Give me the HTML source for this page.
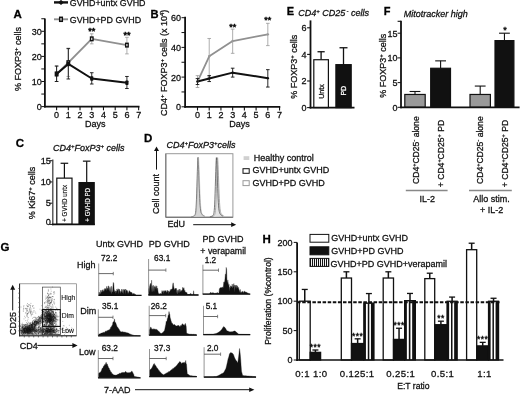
<!DOCTYPE html>
<html><head><meta charset="utf-8"><title>Figure</title>
<style>
html,body{margin:0;padding:0;background:#fff;}
body{width:520px;height:395px;overflow:hidden;}
svg{display:block;font-family:"Liberation Sans",sans-serif;filter:blur(0.3px);}
</style></head><body>
<svg width="520" height="395" viewBox="0 0 520 395">
<rect width="520" height="395" fill="#fff"/>
<line x1="54.00" y1="2.40" x2="68.00" y2="2.40" stroke="#111" stroke-width="2.4" />
<path d="M61 -0.2 L63.8 2.4 L61 5.0 L58.2 2.4 Z" fill="#111"/>
<text x="69.80" y="5.70" font-size="8.9" fill="#111" stroke="#111" stroke-width="0.28">GVHD+untx GVHD</text>
<line x1="54.00" y1="19.30" x2="68.00" y2="19.30" stroke="#909090" stroke-width="1.9" />
<rect x="59.70" y="17.30" width="2.60" height="4.00" fill="#fff" stroke="#111" stroke-width="1.5" />
<text x="69.80" y="22.60" font-size="8.9" fill="#111" stroke="#111" stroke-width="0.28">GVHD+PD GVHD</text>
<text x="13.40" y="17.60" font-size="11.5" font-weight="bold" fill="#000" stroke="#000" stroke-width="0.28">A</text>
<line x1="44.90" y1="18.50" x2="44.90" y2="107.50" stroke="#111" stroke-width="1.8" />
<line x1="44.10" y1="106.60" x2="139.50" y2="106.60" stroke="#111" stroke-width="1.8" />
<line x1="41.30" y1="106.60" x2="44.90" y2="106.60" stroke="#111" stroke-width="1.0" />
<line x1="41.30" y1="94.05" x2="44.90" y2="94.05" stroke="#111" stroke-width="1.0" />
<line x1="41.30" y1="81.50" x2="44.90" y2="81.50" stroke="#111" stroke-width="1.0" />
<line x1="41.30" y1="68.95" x2="44.90" y2="68.95" stroke="#111" stroke-width="1.0" />
<line x1="41.30" y1="56.40" x2="44.90" y2="56.40" stroke="#111" stroke-width="1.0" />
<line x1="41.30" y1="43.85" x2="44.90" y2="43.85" stroke="#111" stroke-width="1.0" />
<line x1="41.30" y1="31.30" x2="44.90" y2="31.30" stroke="#111" stroke-width="1.0" />
<line x1="41.30" y1="18.75" x2="44.90" y2="18.75" stroke="#111" stroke-width="1.0" />
<text x="41.70" y="109.80" font-size="9" text-anchor="end" fill="#111" stroke="#111" stroke-width="0.28">0</text>
<text x="41.70" y="84.70" font-size="9" text-anchor="end" fill="#111" stroke="#111" stroke-width="0.28">10</text>
<text x="41.70" y="59.60" font-size="9" text-anchor="end" fill="#111" stroke="#111" stroke-width="0.28">20</text>
<text x="41.70" y="34.50" font-size="9" text-anchor="end" fill="#111" stroke="#111" stroke-width="0.28">30</text>
<line x1="56.60" y1="106.60" x2="56.60" y2="110.30" stroke="#111" stroke-width="1.1" />
<text x="56.60" y="118.20" font-size="9" text-anchor="middle" fill="#111" stroke="#111" stroke-width="0.28">0</text>
<line x1="68.32" y1="106.60" x2="68.32" y2="110.30" stroke="#111" stroke-width="1.1" />
<text x="68.32" y="118.20" font-size="9" text-anchor="middle" fill="#111" stroke="#111" stroke-width="0.28">1</text>
<line x1="80.04" y1="106.60" x2="80.04" y2="110.30" stroke="#111" stroke-width="1.1" />
<text x="80.04" y="118.20" font-size="9" text-anchor="middle" fill="#111" stroke="#111" stroke-width="0.28">2</text>
<line x1="91.76" y1="106.60" x2="91.76" y2="110.30" stroke="#111" stroke-width="1.1" />
<text x="91.76" y="118.20" font-size="9" text-anchor="middle" fill="#111" stroke="#111" stroke-width="0.28">3</text>
<line x1="103.48" y1="106.60" x2="103.48" y2="110.30" stroke="#111" stroke-width="1.1" />
<text x="103.48" y="118.20" font-size="9" text-anchor="middle" fill="#111" stroke="#111" stroke-width="0.28">4</text>
<line x1="115.20" y1="106.60" x2="115.20" y2="110.30" stroke="#111" stroke-width="1.1" />
<text x="115.20" y="118.20" font-size="9" text-anchor="middle" fill="#111" stroke="#111" stroke-width="0.28">5</text>
<line x1="126.92" y1="106.60" x2="126.92" y2="110.30" stroke="#111" stroke-width="1.1" />
<text x="126.92" y="118.20" font-size="9" text-anchor="middle" fill="#111" stroke="#111" stroke-width="0.28">6</text>
<line x1="138.64" y1="106.60" x2="138.64" y2="110.30" stroke="#111" stroke-width="1.1" />
<text x="138.64" y="118.20" font-size="9" text-anchor="middle" fill="#111" stroke="#111" stroke-width="0.28">7</text>
<text x="95.20" y="126.80" font-size="9" text-anchor="middle" fill="#111" stroke="#111" stroke-width="0.28">Days</text>
<text x="21.20" y="59.00" font-size="9" text-anchor="middle" fill="#111" stroke="#111" stroke-width="0.28" transform="rotate(-90 21.20 59.00)">% FOXP3<tspan dy="-3" font-size="6">+</tspan><tspan dy="3" font-size="1">&#8203;</tspan> cells</text>
<line x1="56.60" y1="66.44" x2="56.60" y2="81.50" stroke="#999" stroke-width="0.8" />
<line x1="54.80" y1="66.44" x2="58.40" y2="66.44" stroke="#999" stroke-width="0.8" />
<line x1="54.80" y1="81.50" x2="58.40" y2="81.50" stroke="#999" stroke-width="0.8" />
<line x1="68.32" y1="48.87" x2="68.32" y2="76.48" stroke="#999" stroke-width="0.8" />
<line x1="66.52" y1="48.87" x2="70.12" y2="48.87" stroke="#999" stroke-width="0.8" />
<line x1="66.52" y1="76.48" x2="70.12" y2="76.48" stroke="#999" stroke-width="0.8" />
<line x1="91.76" y1="33.81" x2="91.76" y2="43.85" stroke="#999" stroke-width="0.8" />
<line x1="89.96" y1="33.81" x2="93.56" y2="33.81" stroke="#999" stroke-width="0.8" />
<line x1="89.96" y1="43.85" x2="93.56" y2="43.85" stroke="#999" stroke-width="0.8" />
<line x1="126.92" y1="37.32" x2="126.92" y2="53.89" stroke="#999" stroke-width="0.8" />
<line x1="125.12" y1="37.32" x2="128.72" y2="37.32" stroke="#999" stroke-width="0.8" />
<line x1="125.12" y1="53.89" x2="128.72" y2="53.89" stroke="#999" stroke-width="0.8" />
<path d="M56.60 73.97 L68.32 62.67 L91.76 38.83 L126.92 45.10" fill="none" stroke="#909090" stroke-width="1.9" stroke-linejoin="round" />
<line x1="56.60" y1="65.94" x2="56.60" y2="81.50" stroke="#111" stroke-width="0.9" />
<line x1="54.80" y1="65.94" x2="58.40" y2="65.94" stroke="#111" stroke-width="0.9" />
<line x1="54.80" y1="81.50" x2="58.40" y2="81.50" stroke="#111" stroke-width="0.9" />
<line x1="68.32" y1="48.37" x2="68.32" y2="78.99" stroke="#111" stroke-width="0.9" />
<line x1="66.52" y1="48.37" x2="70.12" y2="48.37" stroke="#111" stroke-width="0.9" />
<line x1="66.52" y1="78.99" x2="70.12" y2="78.99" stroke="#111" stroke-width="0.9" />
<line x1="91.76" y1="72.72" x2="91.76" y2="84.01" stroke="#111" stroke-width="0.9" />
<line x1="89.96" y1="72.72" x2="93.56" y2="72.72" stroke="#111" stroke-width="0.9" />
<line x1="89.96" y1="84.01" x2="93.56" y2="84.01" stroke="#111" stroke-width="0.9" />
<line x1="126.92" y1="76.48" x2="126.92" y2="88.53" stroke="#111" stroke-width="0.9" />
<line x1="125.12" y1="76.48" x2="128.72" y2="76.48" stroke="#111" stroke-width="0.9" />
<line x1="125.12" y1="88.53" x2="128.72" y2="88.53" stroke="#111" stroke-width="0.9" />
<path d="M56.60 73.97 L68.32 63.93 L91.76 78.49 L126.92 82.75" fill="none" stroke="#111" stroke-width="2.0" stroke-linejoin="round" />
<rect x="55.35" y="72.17" width="2.50" height="3.60" fill="#fff" stroke="#111" stroke-width="1.4" />
<rect x="67.07" y="60.88" width="2.50" height="3.60" fill="#fff" stroke="#111" stroke-width="1.4" />
<rect x="90.51" y="37.03" width="2.50" height="3.60" fill="#fff" stroke="#111" stroke-width="1.4" />
<rect x="125.67" y="43.30" width="2.50" height="3.60" fill="#fff" stroke="#111" stroke-width="1.4" />
<rect x="55.00" y="71.67" width="3.20" height="4.60" fill="#111" stroke="none" stroke-width="0" rx="0.8"/>
<rect x="66.72" y="61.63" width="3.20" height="4.60" fill="#111" stroke="none" stroke-width="0" rx="0.8"/>
<rect x="90.16" y="76.19" width="3.20" height="4.60" fill="#111" stroke="none" stroke-width="0" rx="0.8"/>
<rect x="125.32" y="80.45" width="3.20" height="4.60" fill="#111" stroke="none" stroke-width="0" rx="0.8"/>
<text x="91.76" y="34.01" font-size="9" text-anchor="middle" fill="#111" stroke="#111" stroke-width="0.55">**</text>
<text x="126.92" y="37.52" font-size="9" text-anchor="middle" fill="#111" stroke="#111" stroke-width="0.55">**</text>
<text x="150.50" y="18.40" font-size="11.2" font-weight="bold" fill="#000" stroke="#000" stroke-width="0.28">B</text>
<line x1="185.10" y1="16.80" x2="185.10" y2="107.70" stroke="#111" stroke-width="1.8" />
<line x1="184.30" y1="106.80" x2="280.30" y2="106.80" stroke="#111" stroke-width="1.8" />
<line x1="181.50" y1="106.80" x2="185.10" y2="106.80" stroke="#111" stroke-width="1.0" />
<line x1="181.50" y1="91.95" x2="185.10" y2="91.95" stroke="#111" stroke-width="1.0" />
<line x1="181.50" y1="77.10" x2="185.10" y2="77.10" stroke="#111" stroke-width="1.0" />
<line x1="181.50" y1="62.25" x2="185.10" y2="62.25" stroke="#111" stroke-width="1.0" />
<line x1="181.50" y1="47.40" x2="185.10" y2="47.40" stroke="#111" stroke-width="1.0" />
<line x1="181.50" y1="32.55" x2="185.10" y2="32.55" stroke="#111" stroke-width="1.0" />
<line x1="181.50" y1="17.70" x2="185.10" y2="17.70" stroke="#111" stroke-width="1.0" />
<text x="181.00" y="110.20" font-size="9" text-anchor="end" fill="#111" stroke="#111" stroke-width="0.28">0</text>
<text x="181.00" y="80.50" font-size="9" text-anchor="end" fill="#111" stroke="#111" stroke-width="0.28">20</text>
<text x="181.00" y="50.80" font-size="9" text-anchor="end" fill="#111" stroke="#111" stroke-width="0.28">40</text>
<text x="181.00" y="21.10" font-size="9" text-anchor="end" fill="#111" stroke="#111" stroke-width="0.28">60</text>
<line x1="197.50" y1="106.80" x2="197.50" y2="110.50" stroke="#111" stroke-width="1.1" />
<text x="197.50" y="118.20" font-size="9" text-anchor="middle" fill="#111" stroke="#111" stroke-width="0.28">0</text>
<line x1="209.22" y1="106.80" x2="209.22" y2="110.50" stroke="#111" stroke-width="1.1" />
<text x="209.22" y="118.20" font-size="9" text-anchor="middle" fill="#111" stroke="#111" stroke-width="0.28">1</text>
<line x1="220.94" y1="106.80" x2="220.94" y2="110.50" stroke="#111" stroke-width="1.1" />
<text x="220.94" y="118.20" font-size="9" text-anchor="middle" fill="#111" stroke="#111" stroke-width="0.28">2</text>
<line x1="232.66" y1="106.80" x2="232.66" y2="110.50" stroke="#111" stroke-width="1.1" />
<text x="232.66" y="118.20" font-size="9" text-anchor="middle" fill="#111" stroke="#111" stroke-width="0.28">3</text>
<line x1="244.38" y1="106.80" x2="244.38" y2="110.50" stroke="#111" stroke-width="1.1" />
<text x="244.38" y="118.20" font-size="9" text-anchor="middle" fill="#111" stroke="#111" stroke-width="0.28">4</text>
<line x1="256.10" y1="106.80" x2="256.10" y2="110.50" stroke="#111" stroke-width="1.1" />
<text x="256.10" y="118.20" font-size="9" text-anchor="middle" fill="#111" stroke="#111" stroke-width="0.28">5</text>
<line x1="267.82" y1="106.80" x2="267.82" y2="110.50" stroke="#111" stroke-width="1.1" />
<text x="267.82" y="118.20" font-size="9" text-anchor="middle" fill="#111" stroke="#111" stroke-width="0.28">6</text>
<line x1="279.54" y1="106.80" x2="279.54" y2="110.50" stroke="#111" stroke-width="1.1" />
<text x="279.54" y="118.20" font-size="9" text-anchor="middle" fill="#111" stroke="#111" stroke-width="0.28">7</text>
<text x="239.60" y="126.80" font-size="9" text-anchor="middle" fill="#111" stroke="#111" stroke-width="0.28">Days</text>
<text x="167.20" y="62.90" font-size="9" text-anchor="middle" fill="#111" stroke="#111" stroke-width="0.28" transform="rotate(-90 167.20 62.90)">CD4<tspan dy="-3" font-size="6">+</tspan><tspan dy="3" font-size="1">&#8203;</tspan> FOXP3<tspan dy="-3" font-size="6">+</tspan><tspan dy="3" font-size="1">&#8203;</tspan> cells (x 10<tspan dy="-3" font-size="6">4</tspan><tspan dy="3" font-size="1">&#8203;</tspan>)</text>
<line x1="197.50" y1="75.61" x2="197.50" y2="87.50" stroke="#999" stroke-width="0.8" />
<line x1="195.70" y1="75.61" x2="199.30" y2="75.61" stroke="#999" stroke-width="0.8" />
<line x1="195.70" y1="87.50" x2="199.30" y2="87.50" stroke="#999" stroke-width="0.8" />
<line x1="209.22" y1="38.49" x2="209.22" y2="77.10" stroke="#999" stroke-width="0.8" />
<line x1="207.42" y1="38.49" x2="211.02" y2="38.49" stroke="#999" stroke-width="0.8" />
<line x1="207.42" y1="77.10" x2="211.02" y2="77.10" stroke="#999" stroke-width="0.8" />
<line x1="232.66" y1="29.13" x2="232.66" y2="53.34" stroke="#999" stroke-width="0.8" />
<line x1="230.86" y1="29.13" x2="234.46" y2="29.13" stroke="#999" stroke-width="0.8" />
<line x1="230.86" y1="53.34" x2="234.46" y2="53.34" stroke="#999" stroke-width="0.8" />
<line x1="267.82" y1="23.34" x2="267.82" y2="45.62" stroke="#999" stroke-width="0.8" />
<line x1="266.02" y1="23.34" x2="269.62" y2="23.34" stroke="#999" stroke-width="0.8" />
<line x1="266.02" y1="45.62" x2="269.62" y2="45.62" stroke="#999" stroke-width="0.8" />
<path d="M197.50 81.55 L209.22 56.31 L232.66 41.01 L267.82 34.33" fill="none" stroke="#909090" stroke-width="1.8" stroke-linejoin="round" />
<line x1="197.50" y1="78.58" x2="197.50" y2="84.52" stroke="#111" stroke-width="0.9" />
<line x1="195.70" y1="78.58" x2="199.30" y2="78.58" stroke="#111" stroke-width="0.9" />
<line x1="195.70" y1="84.52" x2="199.30" y2="84.52" stroke="#111" stroke-width="0.9" />
<line x1="209.22" y1="75.61" x2="209.22" y2="81.55" stroke="#111" stroke-width="0.9" />
<line x1="207.42" y1="75.61" x2="211.02" y2="75.61" stroke="#111" stroke-width="0.9" />
<line x1="207.42" y1="81.55" x2="211.02" y2="81.55" stroke="#111" stroke-width="0.9" />
<line x1="232.66" y1="68.19" x2="232.66" y2="77.10" stroke="#111" stroke-width="0.9" />
<line x1="230.86" y1="68.19" x2="234.46" y2="68.19" stroke="#111" stroke-width="0.9" />
<line x1="230.86" y1="77.10" x2="234.46" y2="77.10" stroke="#111" stroke-width="0.9" />
<line x1="267.82" y1="69.67" x2="267.82" y2="87.05" stroke="#111" stroke-width="0.9" />
<line x1="266.02" y1="69.67" x2="269.62" y2="69.67" stroke="#111" stroke-width="0.9" />
<line x1="266.02" y1="87.05" x2="269.62" y2="87.05" stroke="#111" stroke-width="0.9" />
<path d="M197.50 81.55 L209.22 78.58 L232.66 72.64 L267.82 78.14" fill="none" stroke="#111" stroke-width="2.0" stroke-linejoin="round" />
<circle cx="197.50" cy="81.55" r="1.2" fill="#999"/>
<circle cx="209.22" cy="56.31" r="1.2" fill="#999"/>
<circle cx="232.66" cy="41.01" r="1.2" fill="#999"/>
<circle cx="267.82" cy="34.33" r="1.2" fill="#999"/>
<circle cx="197.50" cy="81.55" r="1.2" fill="#111"/>
<circle cx="209.22" cy="78.58" r="1.2" fill="#111"/>
<circle cx="232.66" cy="72.64" r="1.2" fill="#111"/>
<circle cx="267.82" cy="78.14" r="1.2" fill="#111"/>
<text x="232.66" y="29.73" font-size="9" text-anchor="middle" fill="#111" stroke="#111" stroke-width="0.5">**</text>
<text x="267.82" y="23.14" font-size="9" text-anchor="middle" fill="#111" stroke="#111" stroke-width="0.5">**</text>
<text x="286.70" y="15.00" font-size="11.0" font-weight="bold" fill="#000" stroke="#000" stroke-width="0.28">E</text>
<text x="298.20" y="16.20" font-size="9" font-style="italic" fill="#111" stroke="#111" stroke-width="0.28">CD4<tspan dy="-3" font-size="6">+</tspan><tspan dy="3" font-size="1">&#8203;</tspan> CD25<tspan dy="-3" font-size="6">&#8201;-</tspan><tspan dy="3" font-size="1">&#8203;</tspan> cells</text>
<text x="297.40" y="66.70" font-size="9" text-anchor="middle" fill="#111" stroke="#111" stroke-width="0.28" transform="rotate(-90 297.40 66.70)">% FOXP3<tspan dy="-3" font-size="6">+</tspan><tspan dy="3" font-size="1">&#8203;</tspan> cells</text>
<line x1="307.10" y1="107.60" x2="310.50" y2="107.60" stroke="#111" stroke-width="1.1" />
<text x="306.60" y="111.00" font-size="9" text-anchor="end" fill="#111" stroke="#111" stroke-width="0.28">0</text>
<line x1="307.10" y1="81.00" x2="310.50" y2="81.00" stroke="#111" stroke-width="1.1" />
<text x="306.60" y="84.40" font-size="9" text-anchor="end" fill="#111" stroke="#111" stroke-width="0.28">2</text>
<line x1="307.10" y1="54.40" x2="310.50" y2="54.40" stroke="#111" stroke-width="1.1" />
<text x="306.60" y="57.80" font-size="9" text-anchor="end" fill="#111" stroke="#111" stroke-width="0.28">4</text>
<line x1="307.10" y1="27.80" x2="310.50" y2="27.80" stroke="#111" stroke-width="1.1" />
<text x="306.60" y="31.20" font-size="9" text-anchor="end" fill="#111" stroke="#111" stroke-width="0.28">6</text>
<line x1="321.10" y1="51.74" x2="321.10" y2="59.72" stroke="#111" stroke-width="1.3" />
<line x1="317.50" y1="51.74" x2="324.70" y2="51.74" stroke="#111" stroke-width="1.3" />
<line x1="343.50" y1="47.75" x2="343.50" y2="65.04" stroke="#111" stroke-width="1.3" />
<line x1="339.50" y1="47.75" x2="347.50" y2="47.75" stroke="#111" stroke-width="1.3" />
<rect x="313.80" y="59.72" width="14.60" height="47.88" fill="#fff" stroke="#111" stroke-width="1.2" />
<rect x="335.90" y="64.64" width="15.30" height="42.96" fill="#111" stroke="#111" stroke-width="1.2" />
<line x1="310.50" y1="20.40" x2="310.50" y2="108.50" stroke="#111" stroke-width="1.8" />
<line x1="309.70" y1="107.60" x2="354.50" y2="107.60" stroke="#111" stroke-width="1.8" />
<text x="323.80" y="91.50" font-size="7" text-anchor="middle" fill="#111" stroke="#111" stroke-width="0.28" transform="rotate(-90 323.80 91.50)">Untx</text>
<text x="346.20" y="90.70" font-size="7" text-anchor="middle" fill="#fff" stroke="#fff" stroke-width="0.28" transform="rotate(-90 346.20 90.70)">PD</text>
<text x="383.70" y="14.90" font-size="11.0" font-weight="bold" fill="#000" stroke="#000" stroke-width="0.28">F</text>
<text x="403.70" y="16.50" font-size="9" font-style="italic" fill="#111" stroke="#111" stroke-width="0.28">Mitotracker high</text>
<text x="385.60" y="65.80" font-size="9" text-anchor="middle" fill="#111" stroke="#111" stroke-width="0.28" transform="rotate(-90 385.60 65.80)">% FOXP3<tspan dy="-3" font-size="6">+</tspan><tspan dy="3" font-size="1">&#8203;</tspan> cells</text>
<line x1="397.60" y1="107.30" x2="401.00" y2="107.30" stroke="#111" stroke-width="1.0" />
<text x="397.40" y="110.60" font-size="9" text-anchor="end" fill="#111" stroke="#111" stroke-width="0.28">0</text>
<line x1="397.60" y1="82.60" x2="401.00" y2="82.60" stroke="#111" stroke-width="1.0" />
<text x="397.40" y="85.90" font-size="9" text-anchor="end" fill="#111" stroke="#111" stroke-width="0.28">5</text>
<line x1="397.60" y1="57.90" x2="401.00" y2="57.90" stroke="#111" stroke-width="1.0" />
<text x="397.40" y="61.20" font-size="9" text-anchor="end" fill="#111" stroke="#111" stroke-width="0.28">10</text>
<line x1="397.60" y1="33.20" x2="401.00" y2="33.20" stroke="#111" stroke-width="1.0" />
<text x="397.40" y="36.50" font-size="9" text-anchor="end" fill="#111" stroke="#111" stroke-width="0.28">15</text>
<line x1="415.00" y1="91.49" x2="415.00" y2="94.46" stroke="#111" stroke-width="1.1" />
<line x1="409.60" y1="91.49" x2="420.40" y2="91.49" stroke="#111" stroke-width="1.1" />
<rect x="404.80" y="94.46" width="20.40" height="12.84" fill="#999" stroke="#111" stroke-width="1.2" />
<line x1="440.60" y1="60.86" x2="440.60" y2="68.27" stroke="#111" stroke-width="1.1" />
<line x1="435.20" y1="60.86" x2="446.00" y2="60.86" stroke="#111" stroke-width="1.1" />
<rect x="430.70" y="68.27" width="19.80" height="39.03" fill="#111" stroke="#111" stroke-width="1.2" />
<line x1="480.20" y1="86.06" x2="480.20" y2="94.46" stroke="#111" stroke-width="1.1" />
<line x1="474.80" y1="86.06" x2="485.60" y2="86.06" stroke="#111" stroke-width="1.1" />
<rect x="470.00" y="94.46" width="20.40" height="12.84" fill="#999" stroke="#111" stroke-width="1.2" />
<line x1="504.45" y1="33.20" x2="504.45" y2="40.61" stroke="#111" stroke-width="1.1" />
<line x1="499.05" y1="33.20" x2="509.85" y2="33.20" stroke="#111" stroke-width="1.1" />
<rect x="495.00" y="40.61" width="18.90" height="66.69" fill="#111" stroke="#111" stroke-width="1.2" />
<line x1="397.60" y1="21.30" x2="401.00" y2="21.30" stroke="#111" stroke-width="1.1" />
<text x="505.00" y="33.00" font-size="9" text-anchor="middle" fill="#111" stroke="#111" stroke-width="0.45">*</text>
<line x1="401.00" y1="20.80" x2="401.00" y2="108.20" stroke="#111" stroke-width="1.8" />
<line x1="400.20" y1="107.30" x2="519.60" y2="107.30" stroke="#111" stroke-width="1.8" />
<text x="418.60" y="184.00" font-size="8.6" fill="#111" stroke="#111" stroke-width="0.28" transform="rotate(-90 418.60 184.00)">CD4<tspan dy="-2.5" font-size="5.5">+</tspan><tspan dy="2.5" font-size="1">&#8203;</tspan>CD25<tspan dy="-2.5" font-size="5.5">-</tspan><tspan dy="2.5" font-size="1">&#8203;</tspan> alone</text>
<text x="443.60" y="187.20" font-size="8.6" fill="#111" stroke="#111" stroke-width="0.28" transform="rotate(-90 443.60 187.20)">+ CD4<tspan dy="-2.5" font-size="5.5">+</tspan><tspan dy="2.5" font-size="1">&#8203;</tspan>CD25<tspan dy="-2.5" font-size="5.5">+</tspan><tspan dy="2.5" font-size="1">&#8203;</tspan> PD</text>
<text x="482.80" y="184.00" font-size="8.6" fill="#111" stroke="#111" stroke-width="0.28" transform="rotate(-90 482.80 184.00)">CD4<tspan dy="-2.5" font-size="5.5">+</tspan><tspan dy="2.5" font-size="1">&#8203;</tspan>CD25<tspan dy="-2.5" font-size="5.5">-</tspan><tspan dy="2.5" font-size="1">&#8203;</tspan> alone</text>
<text x="507.80" y="187.20" font-size="8.6" fill="#111" stroke="#111" stroke-width="0.28" transform="rotate(-90 507.80 187.20)">+ CD4<tspan dy="-2.5" font-size="5.5">+</tspan><tspan dy="2.5" font-size="1">&#8203;</tspan>CD25<tspan dy="-2.5" font-size="5.5">+</tspan><tspan dy="2.5" font-size="1">&#8203;</tspan> PD</text>
<line x1="405.80" y1="190.50" x2="447.60" y2="190.50" stroke="#888" stroke-width="1.6" />
<line x1="469.00" y1="190.50" x2="511.80" y2="190.50" stroke="#888" stroke-width="1.6" />
<text x="427.20" y="202.00" font-size="9" text-anchor="middle" fill="#111" stroke="#111" stroke-width="0.28">IL-2</text>
<text x="491.60" y="202.00" font-size="9" text-anchor="middle" fill="#111" stroke="#111" stroke-width="0.28">Allo stim.</text>
<text x="491.60" y="212.60" font-size="9" text-anchor="middle" fill="#111" stroke="#111" stroke-width="0.28">+ IL-2</text>
<text x="15.80" y="146.80" font-size="11.5" font-weight="bold" fill="#000" stroke="#000" stroke-width="0.28">C</text>
<text x="52.90" y="151.40" font-size="9" font-style="italic" fill="#111" stroke="#111" stroke-width="0.28">CD4<tspan dy="-3" font-size="6">+</tspan><tspan dy="3" font-size="1">&#8203;</tspan>FoxP3<tspan dy="-3" font-size="6">+</tspan><tspan dy="3" font-size="1">&#8203;</tspan> cells</text>
<text x="35.00" y="192.90" font-size="9" text-anchor="middle" fill="#111" stroke="#111" stroke-width="0.28" transform="rotate(-90 35.00 192.90)">% Ki67<tspan dy="-3" font-size="6">+</tspan><tspan dy="3" font-size="1">&#8203;</tspan> cells</text>
<line x1="49.40" y1="224.40" x2="52.80" y2="224.40" stroke="#111" stroke-width="1.0" />
<text x="50.90" y="225.40" font-size="9.2" text-anchor="end" fill="#111" stroke="#111" stroke-width="0.28">0</text>
<line x1="49.40" y1="203.18" x2="52.80" y2="203.18" stroke="#111" stroke-width="1.0" />
<text x="50.90" y="206.18" font-size="9.2" text-anchor="end" fill="#111" stroke="#111" stroke-width="0.28">5</text>
<line x1="49.40" y1="181.95" x2="52.80" y2="181.95" stroke="#111" stroke-width="1.0" />
<text x="50.90" y="184.95" font-size="9.2" text-anchor="end" fill="#111" stroke="#111" stroke-width="0.28">10</text>
<line x1="49.40" y1="160.72" x2="52.80" y2="160.72" stroke="#111" stroke-width="1.0" />
<text x="50.90" y="163.72" font-size="9.2" text-anchor="end" fill="#111" stroke="#111" stroke-width="0.28">15</text>
<line x1="64.40" y1="163.27" x2="64.40" y2="178.13" stroke="#111" stroke-width="1.2" />
<line x1="60.60" y1="163.27" x2="68.20" y2="163.27" stroke="#111" stroke-width="1.2" />
<line x1="86.70" y1="161.15" x2="86.70" y2="182.37" stroke="#111" stroke-width="1.2" />
<line x1="82.90" y1="161.15" x2="90.50" y2="161.15" stroke="#111" stroke-width="1.2" />
<rect x="56.80" y="178.13" width="15.20" height="46.27" fill="#fff" stroke="#111" stroke-width="1.2" />
<rect x="79.00" y="182.59" width="15.20" height="41.81" fill="#111" stroke="#111" stroke-width="1.2" />
<line x1="52.80" y1="159.60" x2="52.80" y2="225.30" stroke="#444" stroke-width="1.3" />
<line x1="52.00" y1="224.40" x2="94.80" y2="224.40" stroke="#111" stroke-width="1.8" />
<text x="0" y="0" font-size="7.0" transform="translate(66.90 203.40) rotate(-90) scale(0.89 1)" text-anchor="middle" fill="#111" stroke="#111" stroke-width="0.15">+ GVHD untx</text>
<text x="0" y="0" font-size="7.0" transform="translate(89.90 204.80) rotate(-90) scale(0.89 1)" text-anchor="middle" fill="#fff" stroke="#fff" stroke-width="0.15">+ GVHD PD</text>
<text x="144.00" y="142.10" font-size="11.5" font-weight="bold" fill="#000" stroke="#000" stroke-width="0.28">D</text>
<text x="166.40" y="147.90" font-size="9" font-style="italic" fill="#111" stroke="#111" stroke-width="0.28">CD4<tspan dy="-3" font-size="6">+</tspan><tspan dy="3" font-size="1">&#8203;</tspan>FoxP3<tspan dy="-3" font-size="6">+</tspan><tspan dy="3" font-size="1">&#8203;</tspan>cells</text>
<rect x="165.80" y="153.70" width="67.10" height="63.50" fill="none" stroke="#999" stroke-width="1.0" />
<line x1="165.80" y1="153.70" x2="165.80" y2="217.20" stroke="#777" stroke-width="1.1" />
<line x1="165.80" y1="217.20" x2="232.90" y2="217.20" stroke="#666" stroke-width="1.1" />
<path d="M191.50 216.64 L191.72 216.62 L191.93 216.59 L192.15 216.56 L192.37 216.52 L192.58 216.48 L192.80 216.43 L193.02 216.37 L193.23 216.30 L193.45 216.23 L193.67 216.14 L193.88 216.03 L194.10 215.91 L194.32 215.75 L194.53 215.56 L194.75 215.30 L194.97 214.94 L195.18 214.40 L195.40 213.58 L195.62 212.33 L195.83 210.47 L196.05 207.78 L196.27 204.06 L196.48 199.19 L196.70 193.17 L196.92 186.23 L197.13 178.79 L197.35 171.49 L197.57 165.08 L197.78 160.22 L198.00 157.40 L198.22 160.11 L198.43 164.27 L198.65 169.59 L198.87 175.67 L199.08 182.01 L199.30 188.18 L199.52 193.80 L199.73 198.66 L199.95 202.67 L200.17 205.82 L200.38 208.22 L200.60 210.01 L200.82 211.30 L201.03 212.25 L201.25 212.95 L201.47 213.47 L201.68 213.89 L201.90 214.22 L202.12 214.51 L202.33 214.75 L202.55 214.96 L202.77 215.15 L202.98 215.32 L203.20 215.48 L203.42 215.61 L203.63 215.73 L203.85 215.84 L204.07 215.94 L204.28 216.03 L204.50 216.11 Z" fill="#d6d6d6" stroke="none" stroke-width="0" stroke-linejoin="round" />
<path d="M191.50 216.64 L191.72 216.62 L191.93 216.59 L192.15 216.56 L192.37 216.52 L192.58 216.48 L192.80 216.43 L193.02 216.37 L193.23 216.30 L193.45 216.23 L193.67 216.14 L193.88 216.03 L194.10 215.91 L194.32 215.75 L194.53 215.56 L194.75 215.30 L194.97 214.94 L195.18 214.40 L195.40 213.58 L195.62 212.33 L195.83 210.47 L196.05 207.78 L196.27 204.06 L196.48 199.19 L196.70 193.17 L196.92 186.23 L197.13 178.79 L197.35 171.49 L197.57 165.08 L197.78 160.22 L198.00 157.40 L198.22 160.11 L198.43 164.27 L198.65 169.59 L198.87 175.67 L199.08 182.01 L199.30 188.18 L199.52 193.80 L199.73 198.66 L199.95 202.67 L200.17 205.82 L200.38 208.22 L200.60 210.01 L200.82 211.30 L201.03 212.25 L201.25 212.95 L201.47 213.47 L201.68 213.89 L201.90 214.22 L202.12 214.51 L202.33 214.75 L202.55 214.96 L202.77 215.15 L202.98 215.32 L203.20 215.48 L203.42 215.61 L203.63 215.73 L203.85 215.84 L204.07 215.94 L204.28 216.03 L204.50 216.11" fill="none" stroke="#555" stroke-width="0.8" stroke-linejoin="round" />
<path d="M192.00 216.64 L192.22 216.62 L192.43 216.59 L192.65 216.56 L192.87 216.52 L193.08 216.48 L193.30 216.43 L193.52 216.37 L193.73 216.30 L193.95 216.23 L194.17 216.14 L194.38 216.03 L194.60 215.91 L194.82 215.75 L195.03 215.56 L195.25 215.30 L195.47 214.94 L195.68 214.40 L195.90 213.58 L196.12 212.33 L196.33 210.47 L196.55 207.78 L196.77 204.06 L196.98 199.19 L197.20 193.17 L197.42 186.23 L197.63 178.79 L197.85 171.49 L198.07 165.08 L198.28 160.22 L198.50 157.40 L198.72 160.11 L198.93 164.27 L199.15 169.59 L199.37 175.67 L199.58 182.01 L199.80 188.18 L200.02 193.80 L200.23 198.66 L200.45 202.67 L200.67 205.82 L200.88 208.22 L201.10 210.01 L201.32 211.30 L201.53 212.25 L201.75 212.95 L201.97 213.47 L202.18 213.89 L202.40 214.22 L202.62 214.51 L202.83 214.75 L203.05 214.96 L203.27 215.15 L203.48 215.32 L203.70 215.48 L203.92 215.61 L204.13 215.73 L204.35 215.84 L204.57 215.94 L204.78 216.03 L205.00 216.11" fill="none" stroke="#aaa" stroke-width="0.5" stroke-linejoin="round" />
<path d="M211.10 216.64 L211.32 216.62 L211.53 216.59 L211.75 216.56 L211.97 216.52 L212.18 216.48 L212.40 216.43 L212.62 216.37 L212.83 216.31 L213.05 216.23 L213.27 216.14 L213.48 216.03 L213.70 215.91 L213.92 215.76 L214.13 215.57 L214.35 215.31 L214.57 214.94 L214.78 214.41 L215.00 213.59 L215.22 212.35 L215.43 210.49 L215.65 207.81 L215.87 204.11 L216.08 199.25 L216.30 193.25 L216.52 186.33 L216.73 178.92 L216.95 171.65 L217.17 165.25 L217.38 160.41 L217.60 157.60 L217.82 160.30 L218.03 164.44 L218.25 169.75 L218.47 175.81 L218.68 182.13 L218.90 188.27 L219.12 193.88 L219.33 198.73 L219.55 202.71 L219.77 205.86 L219.98 208.25 L220.20 210.03 L220.42 211.32 L220.63 212.26 L220.85 212.96 L221.07 213.48 L221.28 213.90 L221.50 214.23 L221.72 214.51 L221.93 214.76 L222.15 214.97 L222.37 215.16 L222.58 215.33 L222.80 215.48 L223.02 215.62 L223.23 215.74 L223.45 215.85 L223.67 215.94 L223.88 216.03 L224.10 216.11 Z" fill="#e4e4e4" stroke="none" stroke-width="0" stroke-linejoin="round" />
<path d="M211.10 216.64 L211.32 216.62 L211.53 216.59 L211.75 216.56 L211.97 216.52 L212.18 216.48 L212.40 216.43 L212.62 216.37 L212.83 216.31 L213.05 216.23 L213.27 216.14 L213.48 216.03 L213.70 215.91 L213.92 215.76 L214.13 215.57 L214.35 215.31 L214.57 214.94 L214.78 214.41 L215.00 213.59 L215.22 212.35 L215.43 210.49 L215.65 207.81 L215.87 204.11 L216.08 199.25 L216.30 193.25 L216.52 186.33 L216.73 178.92 L216.95 171.65 L217.17 165.25 L217.38 160.41 L217.60 157.60 L217.82 160.30 L218.03 164.44 L218.25 169.75 L218.47 175.81 L218.68 182.13 L218.90 188.27 L219.12 193.88 L219.33 198.73 L219.55 202.71 L219.77 205.86 L219.98 208.25 L220.20 210.03 L220.42 211.32 L220.63 212.26 L220.85 212.96 L221.07 213.48 L221.28 213.90 L221.50 214.23 L221.72 214.51 L221.93 214.76 L222.15 214.97 L222.37 215.16 L222.58 215.33 L222.80 215.48 L223.02 215.62 L223.23 215.74 L223.45 215.85 L223.67 215.94 L223.88 216.03 L224.10 216.11" fill="none" stroke="#999" stroke-width="0.8" stroke-linejoin="round" />
<path d="M209.90 216.64 L210.12 216.62 L210.33 216.59 L210.55 216.56 L210.77 216.52 L210.98 216.48 L211.20 216.43 L211.42 216.37 L211.63 216.31 L211.85 216.23 L212.07 216.14 L212.28 216.03 L212.50 215.91 L212.72 215.76 L212.93 215.57 L213.15 215.31 L213.37 214.94 L213.58 214.41 L213.80 213.59 L214.02 212.35 L214.23 210.49 L214.45 207.81 L214.67 204.11 L214.88 199.25 L215.10 193.25 L215.32 186.33 L215.53 178.92 L215.75 171.65 L215.97 165.25 L216.18 160.41 L216.40 157.60 L216.62 160.30 L216.83 164.44 L217.05 169.75 L217.27 175.81 L217.48 182.13 L217.70 188.27 L217.92 193.88 L218.13 198.73 L218.35 202.71 L218.57 205.86 L218.78 208.25 L219.00 210.03 L219.22 211.32 L219.43 212.26 L219.65 212.96 L219.87 213.48 L220.08 213.90 L220.30 214.23 L220.52 214.51 L220.73 214.76 L220.95 214.97 L221.17 215.16 L221.38 215.33 L221.60 215.48 L221.82 215.62 L222.03 215.74 L222.25 215.85 L222.47 215.94 L222.68 216.03 L222.90 216.11" fill="none" stroke="#555" stroke-width="0.8" stroke-linejoin="round" />
<text x="159.40" y="194.00" font-size="9" text-anchor="middle" fill="#111" stroke="#111" stroke-width="0.28" transform="rotate(-90 159.40 194.00)">Cell count</text>
<line x1="156.50" y1="169.60" x2="156.50" y2="150.50" stroke="#111" stroke-width="1.0" />
<path d="M156.5 146.6 L159.0 151.0 L154.0 151.0 Z" fill="#111"/>
<text x="167.60" y="227.40" font-size="9" fill="#111" stroke="#111" stroke-width="0.28">EdU</text>
<line x1="193.20" y1="224.70" x2="232.00" y2="224.70" stroke="#111" stroke-width="1.0" />
<path d="M236.2 224.7 L231.2 222.3 L231.2 227.1 Z" fill="#111"/>
<rect x="243.60" y="156.20" width="5.70" height="3.80" fill="#d0d0d0" stroke="none" stroke-width="0" />
<text x="253.70" y="161.20" font-size="9" fill="#111" stroke="#111" stroke-width="0.28">Healthy control</text>
<rect x="243.00" y="168.70" width="6.20" height="4.60" fill="#fff" stroke="#111" stroke-width="1.0" />
<text x="252.40" y="173.20" font-size="9" fill="#111" stroke="#111" stroke-width="0.28">GVHD+untx GVHD</text>
<rect x="243.00" y="180.70" width="6.20" height="4.90" fill="#fff" stroke="#999" stroke-width="1.0" />
<text x="252.40" y="185.70" font-size="9" fill="#111" stroke="#111" stroke-width="0.28">GVHD+PD GVHD</text>
<text x="0.60" y="251.30" font-size="11.5" font-weight="bold" fill="#000" stroke="#000" stroke-width="0.28">G</text>
<path d="M26.3 331.5h.01M26.5 329.2h.01M23.2 329.8h.01M32.6 330.7h.01M32.3 330.3h.01M29.3 330.3h.01M29.8 331.2h.01M23.4 329.1h.01M28.9 329.7h.01M29.9 328.0h.01M28.9 331.0h.01M24.5 335.0h.01M30.1 333.1h.01M24.6 328.2h.01M25.9 329.8h.01M30.4 330.4h.01M25.4 327.5h.01M25.1 333.6h.01M23.8 331.0h.01M29.5 325.7h.01M27.7 333.6h.01M27.0 327.8h.01M29.8 329.6h.01M20.8 332.9h.01M30.6 332.3h.01M34.1 330.4h.01M28.0 326.4h.01M30.3 328.0h.01M25.4 326.7h.01M23.0 328.9h.01M33.4 323.8h.01M20.8 331.3h.01M34.1 331.0h.01M29.1 327.8h.01M22.3 333.2h.01M32.6 330.0h.01M28.6 331.1h.01M34.8 331.0h.01M29.9 331.3h.01M31.9 331.1h.01M31.4 324.6h.01M26.7 332.9h.01M21.5 335.0h.01M30.0 329.4h.01M29.0 331.7h.01M28.1 333.1h.01M24.5 329.1h.01M32.3 329.6h.01M23.4 333.0h.01M34.2 328.2h.01M21.2 330.2h.01M26.8 329.2h.01M34.0 326.6h.01M33.3 326.0h.01M23.9 332.1h.01M32.7 331.9h.01M29.1 330.2h.01M28.2 331.5h.01M26.7 330.8h.01M30.1 329.8h.01M31.0 331.2h.01M36.7 330.1h.01M25.5 329.1h.01M27.4 332.6h.01M26.0 331.2h.01M36.0 322.1h.01M22.3 331.1h.01M29.3 330.5h.01M25.5 332.0h.01M28.8 328.4h.01M38.7 330.0h.01M25.0 330.0h.01M26.5 329.9h.01M32.1 326.3h.01M27.2 332.7h.01M31.4 333.8h.01M25.9 331.9h.01M32.5 322.1h.01M32.5 325.5h.01M30.6 325.6h.01M28.3 333.2h.01M26.8 330.6h.01M31.2 330.1h.01M27.1 334.3h.01M32.3 328.7h.01M40.1 325.7h.01M31.7 328.9h.01M28.1 331.9h.01M28.5 331.7h.01M20.5 326.5h.01M30.3 327.1h.01M22.8 326.4h.01M33.3 331.5h.01M34.3 326.8h.01M27.5 326.8h.01M31.0 334.1h.01M23.4 334.7h.01M32.0 329.1h.01M27.1 328.4h.01M29.3 331.0h.01M34.4 326.5h.01M32.7 333.6h.01M34.2 328.9h.01M24.1 333.1h.01M28.0 330.3h.01M34.1 328.7h.01M29.0 328.2h.01M27.5 332.3h.01M27.9 333.6h.01M27.2 332.9h.01M34.4 333.8h.01M24.4 332.7h.01M21.8 330.5h.01M26.6 330.0h.01M24.8 330.9h.01M35.7 329.4h.01M29.9 332.5h.01M26.6 326.6h.01M24.9 333.2h.01M32.1 331.8h.01M27.5 332.2h.01M28.3 326.7h.01M31.7 328.0h.01M23.3 328.2h.01M20.5 330.3h.01M22.1 331.5h.01M24.5 324.9h.01M30.8 328.9h.01M28.8 328.6h.01M31.1 331.7h.01M30.6 330.6h.01M33.6 331.3h.01M29.6 324.0h.01M31.6 333.2h.01M26.1 328.8h.01M36.4 324.3h.01M23.2 332.3h.01M36.2 328.9h.01M30.1 332.3h.01M23.3 330.1h.01M28.8 332.2h.01M27.3 329.5h.01M22.8 329.4h.01M31.6 329.9h.01M23.6 328.0h.01M39.8 332.0h.01M30.4 322.6h.01M30.4 331.1h.01M35.2 330.5h.01M27.2 331.5h.01M29.0 327.9h.01M33.6 334.5h.01M21.0 328.7h.01M28.8 330.4h.01M25.7 327.5h.01M37.3 332.0h.01M22.0 326.8h.01M35.3 332.0h.01M35.9 331.5h.01M23.5 331.1h.01M27.2 331.5h.01M24.2 330.0h.01M29.6 330.9h.01M30.4 330.3h.01M26.0 332.3h.01M27.7 327.7h.01M24.6 330.3h.01M27.0 330.5h.01M27.5 330.5h.01M26.9 326.6h.01M29.4 332.7h.01M29.5 329.3h.01M29.6 327.1h.01M23.2 332.4h.01M22.5 323.2h.01M22.7 334.8h.01M25.7 326.4h.01M24.0 331.8h.01M29.8 330.3h.01M34.3 331.3h.01M27.4 331.7h.01M35.1 332.0h.01M32.2 326.6h.01M26.8 332.1h.01M26.1 333.1h.01M30.2 332.3h.01M33.2 328.9h.01M25.9 332.6h.01M32.0 329.6h.01M22.1 331.0h.01M29.2 333.0h.01M31.1 329.7h.01M31.4 331.1h.01M28.4 330.1h.01M26.4 332.0h.01M22.7 328.7h.01M27.5 325.9h.01M25.5 324.6h.01M24.4 331.9h.01M30.1 329.6h.01M26.4 326.2h.01M35.9 330.7h.01M32.5 327.1h.01M26.6 325.0h.01M31.1 332.3h.01M30.4 324.9h.01M24.6 326.4h.01M27.6 330.7h.01M30.4 331.7h.01M34.4 332.6h.01M21.5 329.2h.01M22.6 327.5h.01M27.1 330.0h.01M29.8 325.4h.01M21.8 330.5h.01M26.6 329.2h.01M27.2 327.9h.01M30.7 330.7h.01M27.1 328.2h.01M26.7 322.5h.01M23.0 330.5h.01M20.6 331.2h.01M28.2 326.1h.01M26.3 329.2h.01M29.6 331.5h.01M27.3 327.7h.01M26.8 329.9h.01M30.9 330.5h.01M24.2 326.6h.01M25.8 328.1h.01M22.4 330.1h.01M25.2 330.5h.01M29.9 328.6h.01M38.2 328.1h.01M32.6 329.9h.01M32.6 323.0h.01M24.0 331.0h.01M29.0 333.4h.01M31.0 332.3h.01M29.8 329.4h.01M29.8 326.8h.01M32.9 326.7h.01M26.5 330.1h.01M32.8 329.6h.01M23.8 331.1h.01M30.2 331.7h.01M23.9 335.2h.01M35.2 329.4h.01M28.7 328.7h.01M34.0 327.5h.01M30.6 328.4h.01M24.3 332.3h.01M33.6 329.4h.01M24.4 332.5h.01M27.3 330.9h.01M34.5 332.5h.01M27.5 332.2h.01M24.5 330.1h.01M33.8 326.1h.01M20.6 326.1h.01M32.9 328.2h.01M27.2 329.2h.01M26.9 327.0h.01M27.6 326.0h.01M27.2 330.9h.01M29.7 329.2h.01M23.3 330.8h.01M25.3 334.5h.01M31.0 329.4h.01M25.3 328.3h.01M23.2 329.4h.01M28.9 331.3h.01M24.3 330.3h.01M40.4 323.7h.01M25.1 330.7h.01M28.2 331.1h.01M26.4 331.1h.01M27.7 332.1h.01M27.5 327.1h.01M22.7 332.2h.01M24.5 332.0h.01M30.9 330.5h.01M29.8 329.5h.01M21.0 330.5h.01M29.6 328.3h.01M27.0 332.1h.01M23.5 332.1h.01M36.1 327.7h.01M28.2 329.5h.01M34.6 330.2h.01M31.6 327.7h.01M27.4 330.0h.01M31.6 324.8h.01M30.9 329.3h.01M29.6 330.8h.01M20.6 330.0h.01M34.4 327.8h.01M22.8 326.7h.01M21.9 331.4h.01M35.3 330.5h.01M25.1 328.4h.01M29.9 331.3h.01M22.8 327.2h.01M28.8 330.6h.01M21.5 330.0h.01M25.0 331.5h.01M27.0 329.8h.01M25.9 333.1h.01M33.9 328.4h.01M31.4 327.5h.01M27.8 332.0h.01M34.5 328.3h.01M27.2 330.6h.01M20.6 330.7h.01M24.4 331.3h.01M22.3 325.0h.01M27.7 330.7h.01M25.0 332.7h.01M26.2 328.4h.01M29.7 325.5h.01M24.4 330.2h.01M31.4 329.2h.01M28.9 328.1h.01M28.9 334.5h.01M24.5 330.3h.01M28.3 332.8h.01M21.8 324.7h.01M30.3 331.9h.01M28.4 330.6h.01M31.8 330.6h.01M35.2 325.9h.01M25.8 320.6h.01M31.2 328.6h.01M27.5 329.3h.01M25.2 327.9h.01M24.6 332.0h.01M27.7 330.2h.01M26.7 332.6h.01M29.8 329.4h.01M30.6 329.3h.01M22.2 334.5h.01M29.6 327.2h.01M32.5 330.5h.01M29.0 332.3h.01M28.4 329.5h.01M27.6 329.2h.01M29.1 330.1h.01M30.6 328.7h.01M27.3 324.1h.01M25.6 332.0h.01M33.6 328.4h.01M26.9 334.4h.01M26.0 332.2h.01M35.2 329.4h.01M33.1 327.5h.01M28.5 329.7h.01M28.0 333.1h.01M38.5 327.2h.01M24.9 331.6h.01M22.6 331.8h.01M30.1 329.0h.01M29.9 325.5h.01M31.0 325.4h.01M24.3 328.8h.01M25.7 332.5h.01M27.9 328.9h.01M30.0 334.1h.01M27.5 331.0h.01M33.2 330.2h.01M37.7 323.6h.01M27.3 331.2h.01M31.9 331.4h.01M26.2 327.2h.01M28.0 332.8h.01M22.5 327.6h.01M27.4 324.6h.01M26.3 328.9h.01M29.6 327.9h.01M23.4 329.3h.01M27.3 328.2h.01M27.6 332.1h.01M33.0 334.2h.01M23.9 329.2h.01M24.2 330.2h.01M29.9 326.0h.01M29.6 329.7h.01M33.0 324.3h.01M31.2 330.2h.01M29.7 331.0h.01M33.5 328.8h.01M31.5 328.5h.01M30.8 327.4h.01M27.0 334.8h.01M29.5 329.4h.01M22.2 328.3h.01M28.4 332.5h.01M29.5 331.3h.01M27.3 333.8h.01M25.7 328.6h.01M31.6 329.8h.01M26.2 328.5h.01M26.3 331.8h.01M29.1 326.5h.01M29.5 330.3h.01M22.9 332.6h.01M26.2 329.2h.01M31.2 333.3h.01M24.3 331.5h.01M25.2 333.5h.01M24.5 332.5h.01M37.7 322.0h.01M25.5 331.6h.01M27.1 328.2h.01M37.4 329.3h.01M24.8 330.6h.01M33.3 329.8h.01M21.1 325.9h.01M32.9 331.6h.01M23.7 332.7h.01M29.8 331.6h.01M31.6 331.7h.01M31.6 322.8h.01M28.3 331.3h.01M39.2 326.3h.01M26.0 330.2h.01M31.6 328.4h.01M32.8 327.3h.01M28.7 328.4h.01M28.2 328.0h.01M28.9 328.3h.01M28.4 332.7h.01M23.0 330.1h.01M30.0 331.2h.01M26.0 324.3h.01M33.2 330.4h.01M27.6 329.2h.01M28.7 328.7h.01M22.8 328.4h.01M24.8 328.6h.01M22.2 332.2h.01M21.5 332.4h.01M22.8 331.4h.01M33.8 330.0h.01M24.1 330.4h.01M28.2 325.1h.01M24.7 330.7h.01M25.3 330.4h.01M30.9 331.8h.01M31.7 331.2h.01M26.2 330.1h.01M26.3 329.2h.01M26.7 325.3h.01M26.0 330.1h.01M23.0 330.3h.01M29.9 329.3h.01M37.1 321.9h.01M26.6 325.0h.01M29.9 328.9h.01M30.0 323.6h.01M31.4 330.7h.01M27.6 328.4h.01M30.4 328.4h.01M28.5 328.5h.01M28.4 332.0h.01M23.5 330.3h.01M30.3 330.1h.01M33.2 335.0h.01M23.3 325.1h.01M31.4 333.9h.01M31.7 331.9h.01M24.7 328.3h.01M31.6 327.1h.01M39.0 334.3h.01M24.3 328.3h.01M28.6 327.8h.01M33.5 329.2h.01M22.5 334.1h.01M24.8 330.9h.01M27.4 329.1h.01M29.0 327.9h.01M21.7 328.4h.01M27.4 330.2h.01M30.1 330.1h.01M23.9 328.4h.01M29.7 331.3h.01M26.9 329.6h.01M31.8 329.6h.01M30.9 331.3h.01M28.5 333.5h.01M24.9 329.2h.01M23.8 328.1h.01M34.7 334.2h.01M27.6 331.6h.01M32.9 331.7h.01M33.0 326.0h.01M24.6 331.5h.01M34.1 329.7h.01M23.6 329.4h.01M24.5 327.9h.01M34.4 327.6h.01M32.9 330.4h.01M24.7 331.4h.01M35.0 331.0h.01M33.3 329.7h.01M29.9 329.2h.01M29.5 333.4h.01M20.9 330.4h.01M28.6 328.3h.01M26.1 332.3h.01M36.7 330.9h.01M29.0 325.6h.01M36.4 329.4h.01M27.3 326.9h.01M27.2 327.0h.01M27.8 331.3h.01M27.6 330.8h.01M23.6 334.3h.01M24.5 325.2h.01M26.6 328.0h.01M22.9 329.4h.01M28.8 326.6h.01M26.9 334.0h.01M30.6 329.3h.01M28.1 329.6h.01M27.3 332.0h.01M27.1 323.4h.01M27.4 327.5h.01M30.5 328.0h.01M22.7 327.3h.01M21.0 324.0h.01M24.6 325.1h.01M20.7 332.3h.01M23.9 329.3h.01M29.0 333.6h.01M36.4 332.0h.01M28.2 330.4h.01M35.8 333.2h.01M26.1 331.4h.01M28.8 330.0h.01M25.2 326.5h.01M25.0 325.9h.01M33.1 331.0h.01M22.0 334.4h.01M31.6 324.3h.01M36.0 331.5h.01M37.0 325.7h.01M29.9 330.9h.01M28.4 330.4h.01M32.3 325.4h.01M21.8 326.7h.01M24.9 328.6h.01M29.2 330.6h.01M27.6 328.1h.01M25.5 332.8h.01M31.0 330.0h.01M26.0 334.4h.01M24.8 332.0h.01M32.8 328.8h.01M31.3 326.6h.01M32.2 330.1h.01M23.4 333.9h.01M24.4 329.8h.01M28.8 329.0h.01M28.7 328.4h.01M30.6 329.7h.01M28.5 322.3h.01M32.8 329.6h.01M29.6 332.8h.01M22.5 334.7h.01M26.8 331.9h.01M25.8 327.1h.01M32.5 332.0h.01M34.6 331.7h.01M24.9 325.6h.01M24.5 328.4h.01M23.8 332.0h.01M29.0 329.1h.01M28.3 329.5h.01M28.5 332.0h.01M31.9 327.7h.01M20.6 334.6h.01M28.0 333.0h.01M27.6 326.0h.01M25.1 332.2h.01M32.5 334.0h.01M23.5 326.5h.01M29.9 332.4h.01M28.4 326.3h.01M31.1 331.9h.01M30.0 328.4h.01M28.9 332.1h.01M24.9 325.1h.01M29.0 331.2h.01M27.6 332.5h.01M24.8 330.0h.01M26.1 331.7h.01M34.8 328.6h.01M37.0 333.4h.01M31.1 331.3h.01M35.6 328.8h.01M27.0 327.1h.01M29.7 333.5h.01M29.9 330.9h.01M26.6 330.6h.01M20.9 333.5h.01M25.6 327.1h.01M24.0 328.0h.01M31.4 332.6h.01M21.3 333.1h.01M31.6 328.0h.01M20.7 328.6h.01M24.6 331.2h.01M25.9 324.5h.01M28.6 325.7h.01M31.7 326.3h.01M24.3 327.9h.01M25.0 333.8h.01M31.4 331.3h.01M29.0 325.6h.01M25.1 328.7h.01M23.0 331.8h.01M24.1 328.3h.01M22.7 324.7h.01M30.2 333.4h.01M28.3 327.2h.01M33.1 330.3h.01M31.8 333.7h.01M32.7 328.3h.01M32.3 331.7h.01M20.4 329.5h.01M21.0 330.3h.01M30.2 326.8h.01M29.2 333.9h.01M21.4 333.5h.01M37.0 334.7h.01M26.5 330.8h.01M26.8 332.8h.01M32.3 329.8h.01M21.2 332.6h.01M25.3 331.9h.01M28.7 334.4h.01M32.7 328.3h.01M29.1 334.7h.01M25.0 331.4h.01M33.0 333.0h.01M29.9 326.1h.01M21.7 331.2h.01M23.5 333.5h.01M31.0 325.0h.01M23.7 330.8h.01M25.2 329.8h.01M29.7 327.6h.01M29.6 328.0h.01M25.0 331.7h.01M24.9 331.0h.01M34.9 329.4h.01M26.8 332.1h.01M25.8 333.2h.01M21.6 332.3h.01M25.1 328.0h.01M35.6 326.9h.01M35.6 331.1h.01M34.2 326.7h.01M33.0 333.5h.01M27.0 329.7h.01M38.8 329.5h.01M25.6 328.4h.01M29.6 330.7h.01M28.3 334.7h.01M26.0 331.4h.01M34.2 326.6h.01M32.3 334.6h.01M21.3 327.5h.01M22.7 325.3h.01M29.6 324.7h.01M29.8 333.8h.01M24.1 329.6h.01M27.8 331.5h.01M25.9 330.2h.01M25.0 330.5h.01M22.1 330.7h.01M36.3 329.4h.01M21.7 331.2h.01M23.0 325.8h.01M24.1 332.3h.01M29.3 329.6h.01M23.2 327.4h.01M33.7 330.1h.01M23.1 324.6h.01M22.2 330.3h.01M28.5 329.5h.01M26.2 326.3h.01M22.7 335.1h.01M24.0 332.7h.01M28.7 332.8h.01M22.3 332.1h.01M29.3 327.8h.01M29.7 327.3h.01M23.8 330.3h.01M22.9 326.4h.01M25.5 332.3h.01M25.6 333.7h.01M22.2 326.9h.01M34.6 330.5h.01M31.8 327.3h.01M31.2 330.4h.01M30.5 329.8h.01M33.0 327.7h.01M23.1 326.3h.01M32.8 327.5h.01M22.7 327.8h.01M25.5 326.7h.01M26.2 328.4h.01M25.0 327.6h.01M27.7 328.7h.01M28.0 330.6h.01M29.1 323.8h.01M25.0 328.0h.01M31.1 325.3h.01M24.2 329.5h.01M26.0 332.9h.01M25.5 332.9h.01M20.8 325.6h.01M33.1 330.7h.01M29.7 330.1h.01M29.7 326.4h.01M31.9 328.1h.01M32.0 329.8h.01M32.7 329.1h.01M25.7 330.8h.01M25.5 328.7h.01M28.0 330.4h.01M34.5 329.5h.01M36.1 334.2h.01M35.4 332.2h.01M28.1 330.3h.01M26.8 328.0h.01M27.2 328.3h.01M35.0 330.8h.01M25.4 324.9h.01M27.3 328.9h.01M22.5 327.3h.01M27.4 329.6h.01M34.1 329.8h.01M28.3 328.9h.01M24.7 334.4h.01M32.1 334.3h.01M25.9 330.2h.01M23.4 333.0h.01M21.1 332.1h.01M32.5 333.4h.01M23.2 333.4h.01M24.2 328.2h.01M21.4 333.8h.01M35.1 327.7h.01M24.0 329.4h.01M39.0 331.7h.01M25.0 325.3h.01M24.4 333.6h.01M36.1 328.5h.01M24.3 328.9h.01M22.5 333.4h.01M28.8 327.8h.01M31.1 329.7h.01M22.1 332.2h.01M31.4 324.4h.01M35.9 330.6h.01M31.0 324.5h.01M24.2 329.3h.01M32.5 325.5h.01M23.4 324.8h.01M26.4 331.1h.01M29.8 334.2h.01M30.6 328.9h.01M22.1 327.9h.01M24.4 330.7h.01M27.3 334.6h.01M28.8 326.9h.01M34.6 332.0h.01M28.0 328.0h.01M31.7 327.4h.01M21.4 331.1h.01M28.6 331.6h.01M30.5 333.6h.01M23.6 333.1h.01M23.0 332.3h.01M28.3 330.6h.01M32.0 329.5h.01M32.6 332.0h.01M28.1 328.4h.01M24.0 328.9h.01M26.6 330.0h.01M41.2 330.5h.01M31.0 327.3h.01M24.2 329.4h.01M28.4 327.1h.01M34.9 327.8h.01M32.5 323.1h.01M27.5 330.8h.01M28.4 331.6h.01M28.8 330.3h.01M28.9 329.3h.01M23.7 328.7h.01M36.0 334.0h.01M27.2 333.6h.01M25.3 327.8h.01M24.9 330.8h.01M41.4 326.9h.01M27.7 330.7h.01M27.3 332.6h.01M35.7 325.8h.01M28.2 329.2h.01M29.1 325.6h.01M29.9 330.3h.01M27.8 323.4h.01M25.8 328.1h.01M21.0 328.1h.01M30.7 331.2h.01M27.4 331.4h.01M24.7 330.5h.01M27.7 331.5h.01M27.2 329.6h.01M26.9 328.3h.01M37.8 330.5h.01M34.0 325.1h.01M30.7 332.0h.01M36.2 332.9h.01M31.0 326.4h.01M23.5 331.1h.01M29.8 327.0h.01M25.7 329.1h.01M27.8 330.9h.01M26.2 326.7h.01M33.2 333.9h.01M27.0 332.9h.01M29.5 331.6h.01M29.7 327.7h.01M30.1 332.6h.01M37.1 334.2h.01M36.7 331.2h.01M25.9 328.5h.01M23.8 330.7h.01M27.3 331.9h.01M38.0 329.0h.01M30.6 331.0h.01M28.8 329.3h.01M26.9 327.8h.01M28.3 329.9h.01M29.0 327.5h.01M27.7 330.1h.01M30.3 326.8h.01M29.4 332.5h.01M30.2 328.7h.01M25.2 329.6h.01M30.9 334.0h.01M26.8 328.3h.01M29.2 330.4h.01M23.3 328.3h.01M27.0 331.9h.01M22.0 327.7h.01M29.8 326.4h.01M28.0 330.9h.01M27.0 327.2h.01M27.2 329.1h.01M29.0 327.5h.01M32.5 324.9h.01M26.7 330.1h.01M31.9 327.9h.01M30.0 328.2h.01M30.9 334.5h.01M25.7 331.4h.01M23.2 333.1h.01M33.1 329.6h.01M22.3 331.6h.01M32.8 332.5h.01M31.2 324.6h.01M24.4 334.2h.01M21.9 333.6h.01M36.2 331.3h.01M32.7 328.6h.01M21.9 330.2h.01M26.6 330.0h.01M30.7 329.3h.01M28.4 331.1h.01M27.5 335.1h.01M29.5 330.0h.01M26.5 328.4h.01M33.7 329.9h.01M22.5 328.9h.01M26.9 328.8h.01M32.5 326.3h.01M29.8 330.2h.01M22.1 330.6h.01M27.1 331.4h.01M25.4 331.0h.01M31.1 332.6h.01M27.4 328.3h.01M32.5 323.8h.01M23.8 332.2h.01M30.5 326.9h.01M28.2 327.5h.01M27.8 332.5h.01M30.9 323.9h.01M31.0 324.7h.01M32.7 330.6h.01M37.9 327.4h.01M27.5 332.9h.01M24.6 328.3h.01M25.8 330.0h.01M22.5 331.8h.01M30.0 330.0h.01M35.3 328.4h.01M33.5 327.9h.01M31.0 324.3h.01M28.4 329.4h.01M34.4 322.4h.01M35.0 321.7h.01M27.3 327.0h.01M34.2 322.7h.01M32.1 325.0h.01M39.8 319.8h.01M34.4 327.1h.01M40.6 322.1h.01M41.4 318.6h.01M36.0 325.5h.01M34.2 323.7h.01M38.1 322.4h.01M35.3 325.6h.01M35.8 324.7h.01M41.0 321.2h.01M39.6 317.8h.01M31.0 324.6h.01M38.5 324.8h.01M31.4 326.5h.01M32.9 323.1h.01M35.3 324.9h.01M37.4 324.7h.01M32.4 327.3h.01M40.4 320.2h.01M38.5 319.9h.01M31.9 324.5h.01M33.8 331.1h.01M34.5 327.7h.01M37.3 322.7h.01M39.6 318.6h.01M40.3 320.9h.01M30.1 328.0h.01M38.8 322.1h.01M43.2 317.2h.01M38.6 322.9h.01M32.7 327.8h.01M30.4 323.3h.01M38.7 318.5h.01M36.0 318.9h.01M36.8 319.6h.01M37.9 317.9h.01M38.4 320.7h.01M36.8 322.2h.01M37.0 319.0h.01M25.7 329.5h.01M32.6 323.9h.01M38.3 316.6h.01M33.3 323.1h.01M32.1 326.1h.01M35.9 320.9h.01M32.4 327.1h.01M33.7 325.7h.01M38.4 316.8h.01M31.9 325.4h.01M37.9 323.4h.01M39.9 322.8h.01M34.9 323.0h.01M39.8 319.4h.01M40.9 315.9h.01M39.2 320.3h.01M28.2 330.1h.01M37.8 321.7h.01M32.0 324.3h.01M42.8 316.4h.01M21.9 329.8h.01M31.5 325.4h.01M34.8 321.4h.01M33.0 327.3h.01M30.4 331.1h.01M34.2 321.4h.01M39.8 321.7h.01M32.1 327.1h.01M28.8 325.3h.01M41.2 318.9h.01M31.0 327.2h.01M40.4 320.0h.01M28.9 326.6h.01M38.3 323.2h.01M44.3 316.9h.01M34.5 323.7h.01M41.6 317.0h.01M42.0 312.4h.01M39.8 318.7h.01M38.4 322.9h.01M31.5 325.5h.01M37.5 323.2h.01M32.6 322.6h.01M28.4 333.7h.01M35.7 322.5h.01M30.2 328.8h.01M34.3 327.4h.01M40.1 320.2h.01M39.6 317.9h.01M35.1 322.0h.01M31.2 326.0h.01M35.9 326.3h.01M22.4 330.0h.01M32.6 323.9h.01M38.3 322.3h.01M36.6 321.3h.01M38.6 322.0h.01M28.8 326.9h.01M30.7 323.4h.01M37.1 322.2h.01M37.0 320.1h.01M35.7 320.9h.01M38.1 323.1h.01M43.9 320.8h.01M33.1 323.6h.01M32.6 325.8h.01M44.8 318.8h.01M27.3 325.4h.01M31.1 327.2h.01M36.5 323.2h.01M44.0 315.7h.01M32.9 329.5h.01M37.9 319.7h.01M28.0 324.3h.01M26.2 329.3h.01M36.7 324.7h.01M35.9 321.2h.01M33.4 329.0h.01M29.1 327.7h.01M36.6 323.9h.01M34.8 324.8h.01M39.9 319.9h.01M34.6 323.3h.01M32.4 324.6h.01M35.2 323.8h.01M42.1 322.0h.01M34.6 325.1h.01M37.7 323.5h.01M36.6 323.1h.01M34.5 321.9h.01M40.2 323.2h.01M39.3 321.7h.01M37.6 320.7h.01M29.0 328.9h.01M37.3 320.6h.01M32.4 328.1h.01M28.9 331.6h.01M39.2 326.4h.01M33.5 324.4h.01M34.4 324.2h.01M35.6 321.3h.01M41.0 317.7h.01M34.4 325.2h.01M34.2 322.9h.01M38.0 320.7h.01M31.3 325.6h.01M35.6 327.2h.01M31.9 327.8h.01M33.2 323.8h.01M35.1 324.0h.01M40.1 324.3h.01M33.8 327.4h.01M40.7 321.7h.01M33.3 326.7h.01M36.0 323.6h.01M35.4 324.8h.01M41.2 322.2h.01M35.6 325.4h.01M42.6 316.4h.01M42.7 315.3h.01M38.8 322.4h.01M42.7 319.2h.01M34.5 321.9h.01M31.2 327.7h.01M35.5 321.4h.01M38.7 319.2h.01M34.7 322.6h.01M43.4 321.5h.01M35.8 319.2h.01M37.7 321.9h.01M38.0 322.9h.01M35.2 325.6h.01M40.0 320.7h.01M34.8 322.5h.01M39.4 318.0h.01M35.8 321.1h.01M30.6 327.7h.01M36.4 322.7h.01M40.2 316.6h.01M36.2 323.4h.01M40.0 317.7h.01M39.5 321.1h.01M42.2 321.6h.01M38.8 326.1h.01M36.5 321.5h.01M35.1 321.2h.01M36.4 318.1h.01M36.1 323.7h.01M40.7 319.0h.01M42.3 317.2h.01M35.9 318.4h.01M33.3 322.7h.01M42.6 319.8h.01M32.0 326.7h.01M38.5 320.7h.01M36.6 321.7h.01M34.3 319.8h.01M36.1 325.7h.01M42.4 318.1h.01M33.4 324.0h.01M40.2 321.0h.01M34.1 324.9h.01M35.7 324.2h.01M34.8 320.2h.01M36.7 324.1h.01M32.0 325.2h.01M40.1 319.3h.01M33.8 328.9h.01M39.9 322.7h.01M32.6 328.8h.01M29.7 325.7h.01M39.5 323.6h.01M32.7 323.4h.01M37.3 317.5h.01M39.1 322.1h.01M34.7 324.9h.01M39.7 321.2h.01M38.6 324.6h.01M34.6 324.1h.01M34.4 326.3h.01M34.8 324.7h.01M37.1 322.3h.01M43.5 317.8h.01M42.3 320.7h.01M41.9 318.7h.01M40.3 321.8h.01M34.0 324.7h.01M36.0 322.8h.01M41.8 317.4h.01M29.7 322.9h.01M34.7 322.2h.01M36.6 323.8h.01M43.6 318.6h.01M38.4 319.6h.01M38.9 324.1h.01M41.9 314.5h.01M40.1 323.8h.01M39.8 316.9h.01M35.3 324.6h.01M38.2 319.6h.01M32.9 327.0h.01M31.1 329.3h.01M36.6 323.1h.01M31.1 324.6h.01M39.3 317.3h.01M44.9 313.9h.01M31.6 325.8h.01M38.4 322.9h.01M35.0 323.0h.01M35.5 321.8h.01M26.1 331.4h.01M37.5 322.2h.01M34.0 324.7h.01M36.4 322.4h.01M41.0 315.7h.01M37.5 319.4h.01M35.2 326.8h.01M32.1 325.1h.01M34.1 326.2h.01M32.5 321.2h.01M38.6 320.4h.01M35.2 325.8h.01M32.9 323.9h.01M37.1 323.1h.01M34.4 326.2h.01M45.5 315.8h.01M44.0 312.8h.01M42.2 318.1h.01M37.1 321.4h.01M33.9 321.2h.01M34.9 326.5h.01M41.1 318.7h.01M34.4 322.3h.01M31.7 329.7h.01M39.2 321.0h.01M34.5 321.4h.01M41.8 320.9h.01M32.7 327.2h.01M32.0 326.8h.01M32.6 324.0h.01M38.5 322.2h.01M40.6 318.0h.01M42.9 321.5h.01M36.5 323.6h.01M33.4 324.2h.01M31.2 326.1h.01M37.3 325.1h.01M40.3 321.9h.01M35.0 322.9h.01M35.1 323.9h.01M28.7 329.3h.01M30.2 325.4h.01M36.6 321.3h.01M43.2 318.0h.01M42.8 321.1h.01M34.5 324.7h.01M41.7 318.4h.01M36.9 321.0h.01M36.7 321.5h.01M36.8 324.6h.01M42.1 319.2h.01M37.3 323.9h.01M35.3 320.8h.01M41.0 317.5h.01M40.3 317.9h.01M43.9 315.4h.01M39.9 323.7h.01M32.6 328.4h.01M33.2 320.6h.01M39.4 322.2h.01M35.7 317.3h.01M36.3 321.9h.01M35.0 322.8h.01M29.3 325.8h.01M43.8 321.4h.01M35.0 321.8h.01M38.1 323.9h.01M39.4 318.0h.01M37.2 322.4h.01M42.3 321.5h.01M38.6 323.9h.01M34.9 327.0h.01M34.8 324.5h.01M40.2 318.0h.01M33.7 320.3h.01M37.2 321.9h.01M35.2 324.5h.01M28.0 327.9h.01M36.9 321.7h.01M39.7 324.4h.01M34.7 321.5h.01M34.1 324.3h.01M38.9 319.0h.01M40.5 317.6h.01M39.8 321.3h.01M38.4 326.2h.01M35.4 322.8h.01M38.4 323.2h.01M31.1 326.6h.01M33.5 325.9h.01M42.0 319.1h.01M36.1 323.2h.01M24.6 331.9h.01M38.8 321.4h.01M34.9 321.9h.01M35.8 325.7h.01M36.1 325.8h.01M26.1 328.1h.01M37.6 321.8h.01M29.8 325.3h.01M41.5 316.3h.01M32.5 322.6h.01M34.3 325.4h.01M38.9 316.3h.01M42.4 317.4h.01M34.1 327.8h.01M36.2 319.9h.01M33.9 322.5h.01M32.4 324.4h.01M40.0 321.0h.01M30.9 332.5h.01M32.5 325.3h.01M36.6 324.2h.01M35.2 324.4h.01M45.0 317.3h.01M32.1 326.1h.01M33.3 323.7h.01M37.3 322.8h.01M35.4 325.2h.01M35.7 320.0h.01M40.0 319.4h.01M41.4 317.9h.01M38.8 321.7h.01M25.6 326.1h.01M32.0 328.6h.01M28.9 329.5h.01M53.2 320.5h.01M51.8 316.2h.01M49.5 318.9h.01M50.9 321.1h.01M48.8 315.0h.01M47.6 319.5h.01M43.9 312.2h.01M48.1 315.6h.01M48.6 307.0h.01M48.4 316.8h.01M52.1 310.2h.01M48.5 319.8h.01M51.1 323.1h.01M53.0 314.1h.01M51.6 316.9h.01M46.8 324.0h.01M47.4 314.2h.01M48.1 314.3h.01M52.9 320.0h.01M54.2 320.3h.01M47.4 322.1h.01M47.3 315.8h.01M48.9 318.1h.01M53.5 316.0h.01M50.7 318.0h.01M45.3 313.0h.01M48.8 319.6h.01M50.6 320.1h.01M49.7 316.2h.01M50.9 314.0h.01M45.0 316.1h.01M44.7 315.3h.01M47.0 315.4h.01M49.3 314.7h.01M48.1 310.8h.01M50.0 314.4h.01M50.9 306.5h.01M46.8 318.7h.01M41.3 315.5h.01M49.8 318.5h.01M44.5 318.3h.01M50.0 314.0h.01M52.0 318.1h.01M49.6 316.2h.01M51.3 318.6h.01M53.3 320.3h.01M47.4 316.8h.01M52.6 316.9h.01M50.8 320.3h.01M48.9 308.3h.01M49.9 318.9h.01M50.0 314.9h.01M53.6 317.9h.01M47.4 314.8h.01M50.7 313.6h.01M46.1 325.9h.01M53.9 322.9h.01M54.1 321.0h.01M43.8 322.2h.01M53.7 320.5h.01M42.9 322.3h.01M54.1 316.5h.01M49.9 321.3h.01M49.2 322.5h.01M49.8 320.9h.01M49.8 311.9h.01M46.1 330.7h.01M50.4 323.5h.01M53.4 325.6h.01M51.4 315.8h.01M49.6 310.0h.01M48.9 321.7h.01M42.2 317.9h.01M52.3 323.9h.01M46.4 314.9h.01M43.1 313.0h.01M51.3 326.8h.01M45.6 323.2h.01M51.0 316.1h.01M57.0 308.4h.01M49.3 318.9h.01M56.7 326.4h.01M57.2 319.5h.01M52.8 324.1h.01M51.2 319.7h.01M48.9 316.2h.01M45.3 325.6h.01M48.0 309.2h.01M50.4 318.0h.01M50.1 325.6h.01M49.1 316.9h.01M47.0 317.6h.01M48.0 318.7h.01M60.1 320.9h.01M46.6 325.7h.01M52.4 321.8h.01M51.9 321.7h.01M51.8 324.2h.01M52.9 324.0h.01M47.8 317.8h.01M47.0 321.7h.01M52.3 316.4h.01M51.5 329.2h.01M53.7 313.9h.01M49.2 320.6h.01M49.4 319.6h.01M53.5 319.9h.01M45.8 320.5h.01M49.2 318.4h.01M47.6 312.0h.01M45.3 316.0h.01M45.9 306.2h.01M53.4 313.6h.01M47.0 319.9h.01M41.3 322.6h.01M46.9 320.4h.01M47.9 319.1h.01M49.9 318.0h.01M43.3 311.1h.01M49.4 323.9h.01M47.6 320.0h.01M50.1 320.1h.01M52.9 312.2h.01M50.4 317.4h.01M48.4 314.3h.01M46.8 313.4h.01M45.8 328.0h.01M55.3 318.8h.01M52.0 314.2h.01M40.0 309.2h.01M50.0 324.1h.01M49.4 313.8h.01M48.7 313.7h.01M44.7 316.4h.01M48.1 314.4h.01M46.5 313.8h.01M50.3 323.9h.01M48.8 327.2h.01M44.0 318.5h.01M45.6 316.8h.01M49.8 320.4h.01M53.4 316.2h.01M45.3 316.7h.01M50.5 315.2h.01M52.5 325.4h.01M44.6 318.9h.01M53.0 310.4h.01M50.2 317.1h.01M44.6 322.9h.01M50.2 316.1h.01M51.0 320.9h.01M52.1 320.7h.01M50.9 313.3h.01M48.1 318.4h.01M40.1 325.7h.01M48.2 313.4h.01M43.3 318.3h.01M49.6 315.6h.01M48.1 314.1h.01M46.9 317.3h.01M47.3 320.6h.01M49.0 318.5h.01M50.9 323.5h.01M51.6 319.2h.01M48.9 314.6h.01M48.3 320.7h.01M50.3 316.5h.01M45.0 311.1h.01M50.6 322.4h.01M50.8 312.4h.01M48.8 318.8h.01M46.4 319.1h.01M48.8 314.4h.01M45.3 320.9h.01M50.7 314.4h.01M46.0 321.3h.01M51.5 317.0h.01M54.9 317.5h.01M45.9 322.1h.01M48.9 319.4h.01M49.6 313.8h.01M45.5 316.7h.01M54.3 314.4h.01M54.1 319.5h.01M45.7 318.6h.01M51.4 314.5h.01M42.2 318.6h.01M45.7 319.4h.01M43.0 316.6h.01M46.7 311.5h.01M48.7 318.6h.01M47.6 312.9h.01M50.2 310.8h.01M51.3 320.3h.01M55.2 322.4h.01M50.7 319.2h.01M49.6 312.5h.01M54.5 320.8h.01M48.5 313.1h.01M54.5 320.8h.01M45.5 320.3h.01M55.9 318.7h.01M50.9 316.4h.01M47.4 322.2h.01M60.0 319.8h.01M49.1 321.2h.01M48.5 320.9h.01M52.3 314.1h.01M45.9 317.2h.01M52.3 319.5h.01M53.7 312.8h.01M51.2 315.6h.01M49.8 319.4h.01M46.2 316.6h.01M45.5 318.6h.01M46.6 315.6h.01M50.2 315.4h.01M53.4 315.8h.01M52.4 319.5h.01M46.0 316.7h.01M46.7 316.2h.01M48.6 325.4h.01M48.1 324.3h.01M51.0 312.8h.01M41.7 319.8h.01M42.7 320.1h.01M53.0 320.0h.01M48.8 316.9h.01M50.4 316.9h.01M47.7 316.2h.01M53.5 315.9h.01M50.8 313.4h.01M47.1 312.0h.01M48.8 320.7h.01M50.5 316.1h.01M51.6 316.8h.01M50.8 319.3h.01M51.3 308.0h.01M45.1 320.7h.01M49.1 327.2h.01M48.7 315.6h.01M54.6 320.9h.01M55.9 320.9h.01M48.8 320.9h.01M46.8 315.8h.01M47.6 316.8h.01M52.1 316.3h.01M50.6 316.1h.01M52.5 307.0h.01M48.8 318.6h.01M45.8 321.7h.01M50.2 323.4h.01M52.8 321.1h.01M49.0 313.4h.01M48.8 316.0h.01M50.3 316.2h.01M59.8 312.7h.01M53.5 316.5h.01M48.7 321.7h.01M49.5 313.0h.01M50.9 317.4h.01M42.5 318.0h.01M45.9 314.5h.01M51.1 319.4h.01M48.5 326.8h.01M50.9 315.6h.01M50.3 317.6h.01M42.1 310.6h.01M44.8 326.0h.01M48.9 316.8h.01M47.6 321.8h.01M49.6 325.1h.01M52.2 325.1h.01M49.1 319.5h.01M48.0 317.1h.01M43.7 314.9h.01M46.3 314.9h.01M53.6 319.6h.01M53.6 322.0h.01M52.6 322.5h.01M47.5 321.1h.01M48.4 315.7h.01M53.5 327.4h.01M46.2 324.8h.01M52.3 314.8h.01M50.4 319.6h.01M50.8 316.7h.01M45.2 317.6h.01M52.4 321.6h.01M51.7 322.8h.01M46.2 317.4h.01M50.6 322.3h.01M50.0 320.2h.01M50.0 326.7h.01M42.1 317.0h.01M57.8 320.0h.01M43.3 317.8h.01M44.7 314.6h.01M50.3 325.2h.01M51.1 320.9h.01M52.9 319.2h.01M46.6 317.2h.01M50.6 317.0h.01M47.2 316.2h.01M44.4 313.2h.01M49.2 316.5h.01M49.6 323.8h.01M50.5 318.0h.01M45.5 313.1h.01M50.8 314.6h.01M50.9 313.8h.01M50.0 317.8h.01M52.9 316.8h.01M48.2 318.9h.01M49.7 325.0h.01M48.6 315.7h.01M48.4 319.8h.01M50.3 321.0h.01M44.8 327.6h.01M55.7 318.6h.01M45.4 318.1h.01M50.9 309.0h.01M49.5 311.9h.01M51.0 323.9h.01M53.0 312.2h.01M54.2 322.3h.01M48.3 319.9h.01M54.6 317.3h.01M49.4 315.7h.01M53.4 309.6h.01M54.3 314.6h.01M52.6 311.7h.01M46.3 315.2h.01M52.3 311.7h.01M51.5 315.6h.01M53.7 317.2h.01M51.1 317.5h.01M55.5 317.3h.01M49.4 326.2h.01M49.8 320.9h.01M47.0 318.5h.01M41.9 317.5h.01M47.3 311.5h.01M44.7 322.1h.01M50.9 311.9h.01M55.6 315.9h.01M48.3 318.9h.01M45.7 310.9h.01M47.0 322.6h.01M52.7 311.9h.01M53.6 318.6h.01M51.2 318.4h.01M50.9 314.1h.01M46.4 314.7h.01M48.3 320.4h.01M45.4 324.1h.01M47.4 315.3h.01M51.9 320.1h.01M48.4 313.5h.01M46.1 311.0h.01M53.4 322.9h.01M55.8 320.8h.01M50.6 321.3h.01M52.7 317.3h.01M50.7 327.0h.01M43.8 311.5h.01M46.3 320.7h.01M53.5 317.1h.01M51.8 318.1h.01M50.5 315.9h.01M49.4 318.0h.01M53.3 327.7h.01M43.4 319.4h.01M49.5 322.0h.01M53.1 321.7h.01M52.2 314.4h.01M43.8 324.2h.01M53.6 314.6h.01M53.8 321.3h.01M41.2 320.7h.01M46.2 322.4h.01M47.2 314.7h.01M44.3 316.5h.01M52.9 315.7h.01M43.2 326.1h.01M55.7 321.6h.01M47.7 312.8h.01M44.0 319.6h.01M53.9 314.2h.01M49.5 316.9h.01M48.6 320.0h.01M56.6 316.2h.01M52.4 322.8h.01M48.5 317.3h.01M45.0 321.9h.01M47.7 315.1h.01M49.7 314.5h.01M46.0 316.3h.01M54.5 317.8h.01M51.3 312.2h.01M42.9 324.7h.01M48.2 311.5h.01M49.1 320.5h.01M43.7 313.6h.01M50.4 314.3h.01M52.2 322.3h.01M51.0 316.4h.01M49.3 315.4h.01M49.1 319.3h.01M48.5 321.9h.01M58.3 316.8h.01M50.7 321.5h.01M51.7 317.3h.01M47.9 321.9h.01M51.6 320.4h.01M46.8 320.3h.01M52.2 317.6h.01M51.7 327.2h.01M43.2 319.7h.01M45.5 311.9h.01M48.7 320.2h.01M49.7 313.2h.01M44.6 315.1h.01M49.5 314.6h.01M44.4 324.6h.01M46.7 317.0h.01M47.6 315.4h.01M49.6 316.8h.01M51.6 313.4h.01M44.5 325.5h.01M49.2 321.1h.01M53.5 320.8h.01M49.6 311.6h.01M44.1 321.4h.01M51.8 320.6h.01M43.9 308.5h.01M45.9 312.7h.01M50.0 313.8h.01M54.9 316.1h.01M47.6 321.3h.01M50.6 314.4h.01M52.3 326.3h.01M45.3 316.5h.01M45.8 309.5h.01M51.6 321.2h.01M52.8 320.2h.01M42.7 317.0h.01M47.2 312.8h.01M45.7 320.7h.01M48.5 326.0h.01M51.1 310.3h.01M52.5 323.6h.01M49.6 313.0h.01M55.5 313.3h.01M49.2 310.0h.01M45.2 310.4h.01M53.2 323.4h.01M48.1 312.2h.01M49.3 319.6h.01M44.3 312.5h.01M49.2 320.9h.01M49.8 319.9h.01M45.2 307.1h.01M50.6 314.3h.01M49.1 316.4h.01M51.1 315.0h.01M54.4 318.7h.01M51.3 320.8h.01M53.0 320.1h.01M43.5 314.6h.01M55.9 320.8h.01M51.4 320.2h.01M47.3 314.9h.01M47.3 322.6h.01M50.7 325.6h.01M51.2 326.1h.01M51.1 313.2h.01M55.5 320.1h.01M53.6 319.4h.01M48.4 318.6h.01M45.7 312.5h.01M46.5 315.4h.01M44.8 317.0h.01M50.5 326.6h.01M55.8 318.6h.01M52.5 317.5h.01M50.8 318.0h.01M47.6 318.1h.01M44.4 319.2h.01M48.5 313.3h.01M48.3 320.2h.01M47.2 319.7h.01M51.5 324.8h.01M45.8 317.1h.01M51.3 324.5h.01M50.4 321.3h.01M44.4 314.9h.01M55.2 317.5h.01M57.0 315.8h.01M48.5 311.2h.01M51.7 319.4h.01M56.5 319.6h.01M48.6 312.0h.01M49.2 322.0h.01M52.1 323.5h.01M52.5 318.2h.01M51.6 319.0h.01M44.9 324.7h.01M50.8 313.7h.01M50.8 319.4h.01M52.9 324.5h.01M39.0 319.1h.01M54.8 314.6h.01M43.1 318.4h.01M50.7 319.6h.01M45.7 315.6h.01M50.2 321.2h.01M57.1 320.2h.01M47.4 307.7h.01M53.2 317.9h.01M49.1 313.8h.01M52.0 310.7h.01M49.9 318.6h.01M50.5 323.7h.01M49.2 318.4h.01M52.5 311.8h.01M48.5 318.2h.01M52.8 315.0h.01M52.3 320.0h.01M44.3 311.1h.01M44.5 318.0h.01M50.2 321.2h.01M52.4 316.0h.01M53.2 321.9h.01M51.1 320.2h.01M45.0 319.0h.01M45.9 312.5h.01M48.3 318.4h.01M49.3 316.6h.01M46.0 318.4h.01M46.9 311.7h.01M49.8 324.2h.01M48.1 313.3h.01M54.3 325.9h.01M48.5 317.0h.01M50.2 330.7h.01M50.0 322.3h.01M51.0 310.4h.01M45.7 312.3h.01M51.0 318.6h.01M55.7 317.6h.01M50.6 318.5h.01M50.0 327.9h.01M50.5 324.4h.01M54.0 316.0h.01M51.9 316.7h.01M49.9 318.7h.01M49.6 316.0h.01M54.9 317.5h.01M52.0 325.5h.01M51.7 322.6h.01M54.3 323.2h.01M55.5 312.6h.01M56.3 319.0h.01M43.4 314.5h.01M44.6 317.3h.01M44.3 313.1h.01M50.5 318.8h.01M46.7 316.7h.01M49.2 318.3h.01M49.5 317.1h.01M52.6 311.5h.01M47.8 318.4h.01M48.1 315.5h.01M48.0 318.7h.01M53.9 317.7h.01M48.6 319.4h.01M48.7 309.6h.01M50.4 316.5h.01M47.5 320.4h.01M49.7 315.6h.01M41.9 309.7h.01M49.5 317.5h.01M51.0 319.1h.01M47.8 312.4h.01M45.7 316.9h.01M45.5 320.7h.01M44.9 309.8h.01M48.8 310.3h.01M55.2 314.5h.01M49.3 316.9h.01M46.6 310.1h.01M43.0 320.9h.01M53.1 327.7h.01M44.4 319.8h.01M49.5 321.6h.01M47.7 320.9h.01M52.6 321.0h.01M54.6 317.9h.01M54.9 315.7h.01M55.3 307.0h.01M49.5 314.6h.01M49.5 322.4h.01M52.0 318.7h.01M55.5 312.4h.01M46.7 324.1h.01M50.6 309.3h.01M50.7 313.1h.01M54.7 323.5h.01M47.6 323.3h.01M46.6 321.6h.01M51.5 317.7h.01M44.5 316.2h.01M41.5 314.6h.01M43.0 322.4h.01M46.1 307.2h.01M51.5 319.8h.01M47.7 326.8h.01M52.2 318.6h.01M47.2 305.1h.01M51.2 322.3h.01M47.4 311.7h.01M49.4 310.8h.01M49.5 321.3h.01M54.8 319.8h.01M50.2 321.3h.01M54.4 317.2h.01M45.2 314.1h.01M45.1 313.7h.01M49.1 319.4h.01M50.0 318.4h.01M48.3 319.7h.01M52.6 321.6h.01M54.7 317.4h.01M48.6 325.1h.01M50.2 319.9h.01M48.3 322.0h.01M48.1 313.5h.01M49.3 316.1h.01M52.4 316.7h.01M49.9 317.1h.01M50.7 315.4h.01M53.4 312.4h.01M48.2 314.8h.01M51.8 318.4h.01M51.2 316.8h.01M47.0 312.9h.01M48.3 315.6h.01M50.5 319.6h.01M52.9 318.0h.01M46.9 313.1h.01M49.7 319.6h.01M56.3 319.6h.01M55.7 326.8h.01M45.8 322.7h.01M53.5 324.2h.01M49.5 322.1h.01M47.8 317.5h.01M49.6 325.6h.01M48.7 322.0h.01M49.7 315.0h.01M50.3 320.9h.01M47.0 320.4h.01M47.0 313.9h.01M50.3 317.1h.01M46.1 310.6h.01M49.6 319.1h.01M47.9 318.6h.01M44.2 319.0h.01M51.0 319.4h.01M47.4 318.1h.01M50.0 322.6h.01M50.5 319.2h.01M47.0 321.4h.01M53.6 316.4h.01M51.7 319.6h.01M49.3 312.5h.01M55.6 310.8h.01M50.6 316.5h.01M53.5 316.7h.01M49.6 320.6h.01M51.1 316.0h.01M51.9 320.0h.01M53.0 316.2h.01M49.3 316.3h.01M46.6 318.7h.01M50.9 324.2h.01M48.4 319.5h.01M53.5 318.0h.01M49.7 318.6h.01M47.1 313.5h.01M53.4 319.2h.01M49.2 312.7h.01M49.9 323.1h.01M45.5 313.7h.01M53.4 324.6h.01M54.9 316.3h.01M51.6 315.1h.01M51.3 316.7h.01M50.2 323.8h.01M50.7 317.1h.01M49.7 319.2h.01M47.7 318.7h.01M51.6 324.9h.01M42.3 312.1h.01M45.2 321.2h.01M58.0 319.9h.01M49.9 322.9h.01M41.0 316.2h.01M38.7 317.3h.01M47.7 315.7h.01M50.7 315.7h.01M53.4 318.5h.01M50.8 328.9h.01M47.9 321.7h.01M46.6 322.9h.01M52.9 319.0h.01M52.9 325.3h.01M54.3 318.6h.01M49.3 322.7h.01M44.4 314.8h.01M51.2 320.6h.01M56.0 326.3h.01M50.6 320.0h.01M44.9 316.7h.01M50.4 317.2h.01M49.7 320.6h.01M46.2 315.2h.01M43.3 322.1h.01M45.8 310.3h.01M52.2 317.4h.01M52.8 316.9h.01M56.9 321.9h.01M50.0 318.6h.01M48.8 321.3h.01M56.4 317.1h.01M45.7 320.1h.01M53.2 312.1h.01M47.1 313.5h.01M51.4 320.4h.01M47.0 312.9h.01M51.9 309.6h.01M51.7 317.6h.01M56.1 323.0h.01M47.5 316.6h.01M48.5 314.8h.01M49.8 322.1h.01M44.3 316.4h.01M54.7 321.8h.01M46.7 314.3h.01M46.5 310.9h.01M53.5 318.8h.01M47.1 311.7h.01M48.2 315.7h.01M55.4 316.8h.01M49.9 322.6h.01M51.8 317.5h.01M42.0 323.0h.01M51.6 316.4h.01M49.2 313.9h.01M46.4 311.4h.01M51.2 320.4h.01M50.1 321.4h.01M51.3 318.7h.01M46.5 320.1h.01M53.6 321.2h.01M53.8 316.5h.01M46.1 322.8h.01M47.5 318.8h.01M48.8 318.0h.01M48.6 315.6h.01M43.4 325.3h.01M50.2 310.0h.01M46.4 312.9h.01M47.0 307.0h.01M51.5 325.1h.01M48.7 321.0h.01M51.6 313.0h.01M53.7 311.4h.01M47.5 316.3h.01M53.8 319.0h.01M49.1 314.6h.01M49.8 318.2h.01M52.0 324.2h.01M52.0 318.4h.01M49.0 324.6h.01M50.2 318.0h.01M55.7 325.3h.01M51.5 317.8h.01M47.3 322.2h.01M47.9 321.8h.01M46.8 318.1h.01M50.9 318.8h.01M50.3 319.7h.01M45.7 312.9h.01M49.0 325.5h.01M49.1 314.1h.01M47.2 317.9h.01M53.5 316.1h.01M51.4 319.0h.01M48.3 313.9h.01M49.0 314.9h.01M51.3 310.9h.01M53.4 321.6h.01M51.5 324.5h.01M51.6 311.1h.01M49.7 319.9h.01M47.2 313.0h.01M51.0 320.3h.01M48.0 316.8h.01M47.8 315.4h.01M49.3 322.5h.01M44.0 315.9h.01M55.0 320.0h.01M50.0 321.6h.01M46.1 312.5h.01M43.8 311.2h.01M50.3 321.6h.01M48.1 315.0h.01M50.9 320.7h.01M50.4 310.2h.01M47.6 307.2h.01M50.3 314.6h.01M47.3 324.0h.01M54.0 320.6h.01M50.4 318.8h.01M47.5 317.5h.01M56.0 315.2h.01M47.2 318.4h.01M52.5 321.8h.01M46.2 317.1h.01M48.6 312.8h.01M49.8 316.0h.01M52.6 320.2h.01M46.8 318.0h.01M48.3 315.2h.01M47.8 322.2h.01M48.1 310.7h.01M46.9 321.0h.01M56.8 314.5h.01M48.3 316.5h.01M44.7 319.1h.01M49.3 319.1h.01M57.1 317.8h.01M52.2 321.8h.01M47.3 315.3h.01M54.8 321.6h.01M50.0 313.5h.01M52.5 320.6h.01M57.0 325.1h.01M52.2 319.5h.01M49.7 315.7h.01M50.6 319.1h.01M51.7 322.8h.01M50.6 315.9h.01M52.2 324.8h.01M46.7 319.4h.01M51.4 320.5h.01M51.2 317.8h.01M49.2 325.0h.01M55.4 312.9h.01M40.9 318.8h.01M47.2 315.6h.01M44.1 318.8h.01M49.3 315.7h.01M52.6 328.5h.01M54.5 323.5h.01M48.1 320.6h.01M49.4 322.8h.01M51.5 318.1h.01M51.4 315.2h.01M52.2 324.6h.01M48.3 320.2h.01M43.8 321.2h.01M52.5 314.1h.01M55.4 319.2h.01M43.6 311.6h.01M52.5 317.2h.01M53.3 312.0h.01M49.2 322.0h.01M47.2 320.5h.01M48.3 319.3h.01M50.6 327.4h.01M45.3 320.7h.01M54.0 313.9h.01M49.8 327.6h.01M53.1 306.1h.01M48.7 310.8h.01M50.5 315.1h.01M47.6 314.3h.01M50.5 316.2h.01M46.4 316.7h.01M50.9 314.6h.01M53.3 311.6h.01M50.9 316.6h.01M54.9 316.0h.01M47.2 312.1h.01M56.3 321.4h.01M45.8 316.2h.01M46.2 323.9h.01M50.9 309.7h.01M50.2 321.9h.01M49.5 320.0h.01M49.1 318.8h.01M50.2 315.1h.01M50.7 318.8h.01M49.4 315.1h.01M46.1 318.6h.01M52.3 308.3h.01M47.7 323.4h.01M52.6 315.4h.01M54.1 314.5h.01M46.8 325.7h.01M48.0 316.9h.01M43.9 313.1h.01M45.5 316.9h.01M43.3 321.7h.01M48.3 315.3h.01M47.3 320.8h.01M54.7 316.9h.01M55.0 325.4h.01M54.1 319.8h.01M44.4 320.2h.01M48.1 318.6h.01M43.1 316.0h.01M50.3 314.2h.01M50.5 325.1h.01M50.3 315.2h.01M57.6 310.0h.01M46.4 319.3h.01M47.5 308.2h.01M50.4 321.6h.01M46.8 323.8h.01M51.2 323.2h.01M44.3 317.3h.01M55.0 327.1h.01M54.0 318.6h.01M50.1 315.5h.01M53.2 315.6h.01M49.9 309.4h.01M44.4 324.8h.01M49.7 318.9h.01M42.0 316.9h.01M56.6 312.6h.01M41.4 316.3h.01M47.7 316.9h.01M45.2 311.8h.01M45.3 320.2h.01M49.3 321.4h.01M45.8 320.0h.01M48.0 318.2h.01M52.7 318.5h.01M48.3 310.9h.01M49.7 321.3h.01M47.3 317.5h.01M43.5 311.7h.01M50.9 323.6h.01M48.4 310.9h.01M48.2 311.3h.01M48.6 326.0h.01M50.5 317.5h.01M53.1 316.8h.01M50.6 319.0h.01M51.0 312.0h.01M51.9 322.0h.01M41.7 305.7h.01M46.4 323.9h.01M49.6 320.9h.01M51.4 322.0h.01M47.3 315.3h.01M50.8 320.7h.01M51.5 319.7h.01M47.8 322.4h.01M51.1 322.7h.01M40.8 321.2h.01M41.1 317.9h.01M47.2 318.2h.01M47.9 316.5h.01M50.2 319.5h.01M46.7 307.0h.01M46.8 320.0h.01M46.6 319.4h.01M48.2 313.9h.01M53.5 325.5h.01M49.1 317.7h.01M52.8 312.8h.01M46.5 322.4h.01M52.6 316.3h.01M46.8 319.2h.01M44.6 315.3h.01M48.7 307.5h.01M51.5 321.5h.01M53.2 312.4h.01M45.1 314.0h.01M45.0 326.1h.01M46.1 316.3h.01M50.2 320.0h.01M54.5 314.0h.01M52.5 319.0h.01M45.4 318.1h.01M44.6 324.3h.01M47.0 322.0h.01M54.0 315.9h.01M46.4 318.2h.01M45.9 321.4h.01M50.1 314.8h.01M47.1 320.8h.01M44.5 324.6h.01M46.8 316.8h.01M46.3 324.5h.01M52.4 323.9h.01M51.8 318.7h.01M55.4 321.6h.01M51.0 320.6h.01M52.1 319.5h.01M48.9 311.1h.01M56.7 313.3h.01M42.0 314.0h.01M56.2 324.0h.01M47.4 318.9h.01M49.4 309.5h.01M48.3 319.1h.01M53.6 313.4h.01M41.6 310.3h.01M50.7 318.5h.01M50.0 318.7h.01M48.2 312.0h.01M51.1 319.8h.01M51.5 323.6h.01M45.2 307.5h.01M43.3 326.4h.01M46.3 319.3h.01M49.4 321.1h.01M60.7 317.2h.01M48.9 315.4h.01M50.4 320.3h.01M46.1 323.2h.01M53.5 320.4h.01M49.1 316.9h.01M43.7 320.1h.01M46.1 315.4h.01M53.0 314.5h.01M47.7 321.4h.01M56.0 315.8h.01M53.4 315.7h.01M50.9 320.2h.01M45.5 321.9h.01M55.8 319.0h.01M50.4 313.1h.01M55.8 319.0h.01M45.0 320.7h.01M44.4 314.4h.01M42.0 323.0h.01M57.2 316.2h.01M47.2 315.2h.01M47.5 320.1h.01M54.6 314.3h.01M51.0 310.5h.01M54.8 318.3h.01M47.0 324.2h.01M49.1 323.8h.01M53.3 325.6h.01M46.7 317.9h.01M50.8 317.3h.01M54.8 315.6h.01M53.0 324.3h.01M42.7 313.0h.01M46.3 315.3h.01M50.9 317.4h.01M49.8 316.1h.01M49.2 320.0h.01M52.1 315.0h.01M49.1 314.7h.01M48.9 311.8h.01M52.8 321.3h.01M49.1 315.0h.01M47.9 315.0h.01M44.1 324.3h.01M61.0 314.2h.01M45.4 320.0h.01M51.6 311.5h.01M42.8 319.5h.01M42.5 323.2h.01M47.8 318.2h.01M49.5 315.6h.01M49.0 316.7h.01M53.9 318.1h.01M49.4 315.7h.01M47.3 314.6h.01M49.5 325.9h.01M53.4 319.5h.01M55.3 323.1h.01M50.2 317.4h.01M45.7 318.6h.01M48.4 311.1h.01M45.0 325.7h.01M50.3 320.2h.01M50.2 316.1h.01M51.1 322.8h.01M48.4 320.1h.01M53.1 316.4h.01M50.1 314.9h.01M51.6 316.7h.01M53.5 315.2h.01M55.4 317.4h.01M46.6 313.8h.01M51.8 314.6h.01M55.8 324.3h.01M51.3 312.1h.01M49.4 314.9h.01M43.2 319.0h.01M57.2 316.7h.01M52.3 323.8h.01M46.1 316.1h.01M50.4 320.1h.01M45.5 318.4h.01M49.1 322.0h.01M43.9 314.9h.01M47.7 316.4h.01M52.0 315.6h.01M59.1 316.2h.01M52.4 322.7h.01M52.9 317.5h.01M46.6 316.6h.01M51.8 318.8h.01M51.5 320.7h.01M46.4 313.6h.01M54.5 316.5h.01M44.0 325.3h.01M46.6 313.6h.01M52.9 313.6h.01M46.5 322.1h.01M46.6 328.4h.01M49.8 329.5h.01M50.0 318.3h.01M47.3 316.8h.01M47.7 317.7h.01M52.2 312.9h.01M46.3 308.6h.01M54.8 318.3h.01M49.5 317.7h.01M53.0 319.8h.01M52.5 317.6h.01M49.1 317.7h.01M43.0 321.9h.01M44.0 313.1h.01M51.8 318.5h.01M52.3 325.6h.01M56.0 324.7h.01M48.7 326.7h.01M46.6 330.6h.01M53.9 330.4h.01M49.5 330.1h.01M55.3 325.9h.01M55.0 332.9h.01M49.7 331.9h.01M46.2 333.0h.01M61.9 329.0h.01M55.4 330.7h.01M48.7 329.8h.01M49.3 328.3h.01M44.7 334.1h.01M49.9 331.9h.01M51.2 331.8h.01M44.0 328.9h.01M52.5 332.8h.01M45.5 329.6h.01M45.8 332.1h.01M51.3 330.9h.01M47.5 331.5h.01M50.1 329.3h.01M51.3 329.5h.01M53.7 332.1h.01M47.3 332.0h.01M50.3 329.4h.01M46.4 327.5h.01M45.6 331.5h.01M54.7 329.5h.01M50.6 331.5h.01M53.0 331.7h.01M54.8 332.3h.01M47.0 331.6h.01M40.9 330.4h.01M50.1 332.0h.01M48.8 332.5h.01M55.2 329.1h.01M47.9 331.3h.01M51.9 331.1h.01M53.2 328.4h.01M53.0 333.1h.01M54.3 331.7h.01M49.1 331.6h.01M49.7 327.6h.01M47.6 330.7h.01M48.0 328.9h.01M49.1 330.1h.01M50.3 330.7h.01M50.7 332.8h.01M50.5 331.6h.01M45.2 324.9h.01M48.4 332.2h.01M48.7 329.6h.01M45.2 332.6h.01M47.9 331.3h.01M54.4 331.9h.01M58.7 330.5h.01M53.7 332.2h.01M47.4 330.9h.01M47.8 328.8h.01M51.2 329.3h.01M56.6 329.3h.01M47.9 331.0h.01M48.0 330.9h.01M47.6 328.0h.01M40.6 328.2h.01M55.9 331.7h.01M50.6 329.9h.01M49.4 331.4h.01M44.6 329.2h.01M46.5 333.3h.01M45.9 333.1h.01M49.7 330.9h.01M55.3 332.5h.01M53.7 328.7h.01M54.4 334.2h.01M49.6 329.8h.01M45.7 332.8h.01M51.1 330.8h.01M45.2 334.0h.01M53.4 330.8h.01M55.8 328.9h.01M53.4 328.8h.01M55.5 330.2h.01M54.8 330.0h.01M51.6 333.1h.01M46.5 331.0h.01M46.7 332.5h.01M47.6 330.1h.01M49.2 333.1h.01M45.9 330.7h.01M48.7 329.7h.01M46.9 330.5h.01M50.8 327.7h.01M50.9 328.4h.01M46.2 330.7h.01M49.0 332.8h.01M48.2 327.2h.01M43.7 331.2h.01M51.0 332.9h.01M47.9 332.1h.01M45.8 333.4h.01M49.7 329.4h.01M50.7 334.3h.01M46.7 328.3h.01M46.0 328.5h.01M49.8 331.5h.01M49.4 331.2h.01M54.6 330.2h.01M45.1 326.2h.01M50.9 329.4h.01M49.0 331.6h.01M51.8 327.7h.01M46.3 330.9h.01M49.4 333.1h.01M48.0 326.7h.01M54.6 327.5h.01M46.2 331.6h.01M50.9 331.9h.01M52.1 329.4h.01M54.9 327.4h.01M47.7 331.4h.01M50.5 328.9h.01M56.2 333.7h.01M46.4 331.5h.01M47.5 329.9h.01M53.8 331.1h.01M49.6 331.0h.01M45.4 333.2h.01M47.1 333.4h.01M48.2 329.9h.01M55.8 331.2h.01M47.5 329.7h.01M52.4 334.5h.01M52.4 330.0h.01M45.6 329.5h.01M49.5 331.3h.01M47.4 333.4h.01M46.3 329.4h.01M51.9 331.8h.01M48.5 332.7h.01M44.5 334.1h.01M58.5 334.7h.01M50.5 334.7h.01M50.2 333.5h.01M49.2 331.2h.01M52.0 327.3h.01M49.2 334.2h.01M38.6 331.6h.01M53.6 331.5h.01M50.8 333.6h.01M51.3 327.0h.01M46.3 330.2h.01M50.6 329.9h.01M49.6 334.1h.01M38.6 333.1h.01M53.7 332.0h.01M50.1 330.9h.01M51.4 331.3h.01M47.2 332.4h.01M46.8 330.7h.01M48.6 328.5h.01M52.4 330.7h.01M45.5 330.6h.01M44.6 333.7h.01M52.0 334.8h.01M47.8 332.2h.01M46.2 329.1h.01M49.7 331.6h.01M53.6 330.3h.01M54.3 332.7h.01M46.6 330.4h.01M46.4 334.2h.01M47.9 332.6h.01M53.6 330.3h.01M48.1 331.5h.01M47.0 328.3h.01M46.2 331.5h.01M50.7 334.3h.01M42.9 331.8h.01M45.5 333.1h.01M52.7 331.1h.01M55.7 330.1h.01M47.9 328.7h.01M47.5 331.0h.01M52.6 333.3h.01M49.0 329.3h.01M48.7 329.9h.01M48.2 330.0h.01M46.6 330.7h.01M48.0 330.5h.01M44.6 331.1h.01M52.2 332.1h.01M47.9 328.5h.01M45.0 328.5h.01M47.5 330.2h.01M43.1 332.1h.01M44.0 329.4h.01M47.2 332.4h.01M57.1 330.1h.01M48.9 330.0h.01M49.2 330.5h.01M59.5 328.6h.01M49.6 329.2h.01M51.4 329.8h.01M52.2 328.7h.01M58.2 331.2h.01M43.2 332.2h.01M48.2 328.5h.01M51.7 329.8h.01M52.9 329.7h.01M53.5 331.1h.01M51.4 331.1h.01M48.6 330.1h.01M51.7 332.2h.01M56.5 328.5h.01M54.2 330.7h.01M50.9 329.2h.01M56.4 329.2h.01M49.7 329.4h.01M57.5 333.3h.01M44.9 329.9h.01M51.4 330.0h.01M48.6 328.7h.01M51.0 328.6h.01M48.7 334.0h.01M51.4 329.5h.01M48.7 328.9h.01M50.4 332.2h.01M53.6 330.3h.01M45.4 330.7h.01M56.4 331.4h.01M49.8 326.7h.01M48.3 331.9h.01M46.4 333.5h.01M47.8 329.1h.01M47.8 330.6h.01M53.8 329.7h.01M43.1 330.6h.01M52.0 333.8h.01M45.7 333.7h.01M52.6 331.7h.01M47.1 329.1h.01M46.3 332.6h.01M50.8 332.9h.01M57.0 330.8h.01M49.8 334.6h.01M45.0 329.9h.01M48.6 330.1h.01M50.6 329.2h.01M54.5 328.1h.01M46.9 327.5h.01M44.6 332.0h.01M52.4 330.4h.01M53.2 332.0h.01M47.8 330.7h.01M51.4 334.7h.01M48.3 331.5h.01M52.1 333.2h.01M51.6 332.9h.01M45.9 330.3h.01M42.6 330.7h.01M58.9 331.3h.01M50.3 331.3h.01M50.6 328.2h.01M47.3 330.5h.01M50.6 329.1h.01M49.6 329.4h.01M44.9 329.5h.01M46.9 332.5h.01M55.1 331.9h.01M49.2 329.7h.01M44.0 329.8h.01M56.0 333.1h.01M50.9 330.3h.01M50.0 331.6h.01M50.0 331.6h.01M47.0 330.9h.01M48.7 332.9h.01M45.2 333.3h.01M49.7 329.8h.01M50.1 331.1h.01M49.1 331.6h.01M47.8 327.5h.01M52.7 330.8h.01M56.4 331.6h.01M42.3 333.2h.01M47.4 331.9h.01M58.5 332.9h.01M45.8 330.6h.01M43.8 332.1h.01M52.2 328.8h.01M51.7 332.6h.01M53.1 329.5h.01M47.3 328.6h.01M45.0 331.4h.01M50.2 333.4h.01M51.1 330.2h.01M44.5 333.8h.01M50.6 330.8h.01M46.2 328.8h.01M52.4 328.9h.01M52.2 332.0h.01M48.5 327.7h.01M51.6 333.6h.01M46.8 328.4h.01M54.2 331.1h.01M47.6 333.2h.01M48.9 331.7h.01M48.5 329.4h.01M50.8 329.1h.01M43.2 329.8h.01M54.7 333.0h.01M58.3 332.7h.01M56.2 331.3h.01M48.3 331.7h.01M46.4 332.2h.01M48.3 331.3h.01M46.7 330.6h.01M53.8 330.4h.01M47.4 331.4h.01M53.4 330.5h.01M45.5 327.8h.01M44.9 332.9h.01M49.7 331.7h.01M54.1 331.4h.01M51.8 329.8h.01M43.8 332.0h.01M49.6 331.9h.01M45.9 330.5h.01M57.7 329.2h.01M50.4 333.4h.01M49.1 331.1h.01M41.9 332.3h.01M48.3 333.3h.01M49.7 330.1h.01M51.7 330.4h.01M48.0 333.8h.01M53.8 331.0h.01M53.1 332.4h.01M52.2 330.9h.01M50.3 331.6h.01M52.2 331.5h.01M47.9 330.7h.01M51.8 328.9h.01M50.0 332.3h.01M50.6 330.3h.01M49.9 329.9h.01M53.8 330.1h.01M43.6 328.5h.01M51.1 331.2h.01M48.2 328.3h.01M49.4 329.2h.01M47.5 330.8h.01M47.1 331.4h.01M47.2 329.9h.01M49.1 333.6h.01M56.0 332.6h.01M47.2 330.8h.01M53.5 332.4h.01M43.8 330.7h.01M47.2 332.3h.01M52.4 329.8h.01M58.2 330.3h.01M59.3 330.5h.01M49.7 334.5h.01M48.0 329.9h.01M55.6 330.8h.01M51.8 328.4h.01M56.8 332.7h.01M51.4 332.2h.01M48.1 329.9h.01M44.0 331.5h.01M54.7 332.5h.01M53.5 332.2h.01M46.5 328.3h.01M52.4 331.1h.01M53.8 330.3h.01M46.6 331.7h.01M47.9 327.7h.01M47.7 329.2h.01M45.7 329.8h.01M56.6 330.0h.01M54.4 330.7h.01M51.5 329.5h.01M49.7 327.6h.01M56.8 329.4h.01M52.2 329.7h.01M51.0 328.6h.01M48.6 332.6h.01M52.3 327.1h.01M53.3 328.3h.01M51.1 331.8h.01M47.5 330.2h.01M49.1 331.6h.01M53.5 333.4h.01M51.2 334.6h.01M46.4 334.2h.01M49.0 332.3h.01M49.5 331.0h.01M46.5 331.6h.01M57.7 331.1h.01M49.9 330.8h.01M52.7 330.4h.01M50.0 331.2h.01M55.0 332.6h.01M46.0 329.6h.01M50.1 332.4h.01M53.7 330.4h.01M58.1 330.5h.01M55.4 333.5h.01M56.1 331.2h.01M52.2 327.9h.01M43.2 329.7h.01M52.7 332.9h.01M49.6 332.8h.01M52.2 333.7h.01M43.9 329.3h.01M46.3 328.8h.01M56.3 329.1h.01M46.8 330.1h.01M53.4 330.0h.01M52.8 331.9h.01M47.6 326.3h.01M46.5 328.5h.01M56.2 329.5h.01M45.9 331.5h.01M50.2 329.1h.01M54.2 332.6h.01M51.1 329.4h.01M46.7 326.9h.01M51.5 331.6h.01M46.5 330.9h.01M62.5 328.7h.01M43.5 332.0h.01M48.4 329.9h.01M52.4 330.6h.01M53.8 331.8h.01M54.4 331.1h.01M41.8 333.4h.01M43.5 332.8h.01M51.0 328.2h.01M50.3 332.5h.01M46.1 330.9h.01M47.2 328.9h.01M47.6 333.3h.01M52.6 330.8h.01M49.7 331.1h.01M51.1 331.2h.01M43.4 332.6h.01M46.7 325.9h.01M52.7 328.5h.01M49.5 330.6h.01M47.7 331.8h.01M49.0 330.3h.01M46.3 330.3h.01M46.0 330.9h.01M55.1 332.7h.01M51.6 328.2h.01M53.9 332.6h.01M57.9 326.5h.01M50.1 330.2h.01M54.2 328.8h.01M53.8 327.0h.01M50.1 333.4h.01M47.6 332.0h.01M50.4 328.0h.01M47.6 333.0h.01M54.5 329.7h.01M54.3 329.5h.01M50.9 330.8h.01M45.2 331.4h.01M48.5 325.6h.01M46.8 329.2h.01M46.8 329.0h.01M47.4 326.1h.01M53.4 331.0h.01M51.0 330.3h.01M50.2 330.3h.01M45.8 327.9h.01M50.3 332.8h.01M50.9 333.9h.01M44.8 330.3h.01M47.6 333.2h.01M56.5 329.8h.01M52.8 330.4h.01M46.2 330.6h.01M46.0 333.8h.01M52.3 333.1h.01M51.4 326.2h.01M53.1 331.0h.01M40.9 331.0h.01M53.9 334.1h.01M46.1 332.3h.01M51.3 330.5h.01M48.9 331.8h.01M52.2 332.1h.01M48.4 328.3h.01M55.1 333.3h.01M47.8 330.7h.01M53.1 327.4h.01M51.0 329.5h.01M57.8 330.8h.01M50.8 330.0h.01M50.7 327.4h.01M45.1 328.0h.01M53.5 330.6h.01M54.4 326.9h.01M47.7 333.6h.01M47.0 327.2h.01M47.1 330.1h.01M49.9 333.3h.01M44.6 334.3h.01M42.0 329.9h.01M38.3 327.9h.01M44.4 333.6h.01M40.3 329.1h.01M42.3 332.0h.01M40.5 328.6h.01M40.8 329.8h.01M42.5 332.3h.01M41.5 330.1h.01M45.2 332.6h.01M44.4 332.8h.01M42.3 331.8h.01M36.3 327.2h.01M36.8 332.3h.01M43.1 331.4h.01M40.3 334.9h.01M38.6 327.2h.01M34.7 330.3h.01M42.4 332.6h.01M39.2 332.7h.01M39.8 329.5h.01M38.7 332.6h.01M43.3 328.6h.01M36.6 331.3h.01M47.3 328.5h.01M35.7 331.9h.01M41.7 329.7h.01M39.9 332.0h.01M34.0 331.0h.01M42.1 332.9h.01M44.0 330.9h.01M35.1 333.8h.01M42.6 329.7h.01M43.6 333.2h.01M39.5 326.0h.01M38.4 329.4h.01M37.1 330.8h.01M36.3 331.8h.01M46.5 328.5h.01M43.6 329.9h.01M41.9 330.7h.01M44.4 329.5h.01M42.5 329.4h.01M40.8 331.0h.01M43.7 327.7h.01M35.4 333.9h.01M41.3 334.6h.01M36.5 331.4h.01M42.1 334.7h.01M39.8 330.1h.01M42.5 330.8h.01M37.4 332.6h.01M33.5 328.9h.01M44.7 329.9h.01M38.9 331.8h.01M43.8 332.1h.01M36.7 329.8h.01M43.6 330.7h.01M37.8 332.8h.01M36.3 329.5h.01M37.6 331.7h.01M38.4 333.4h.01M30.8 333.0h.01M37.8 330.4h.01M41.9 331.4h.01M36.5 334.2h.01M42.0 330.0h.01M40.7 328.7h.01M35.8 330.4h.01M41.2 331.2h.01M37.4 328.1h.01M34.3 334.4h.01M41.3 329.3h.01M44.1 332.1h.01M38.6 329.7h.01M43.9 331.7h.01M45.6 331.8h.01M38.0 329.7h.01M37.6 331.5h.01M40.9 332.3h.01M41.5 328.8h.01M39.3 329.0h.01M41.6 328.2h.01M38.0 329.2h.01M37.9 330.5h.01M45.2 330.5h.01M35.1 330.4h.01M42.6 332.2h.01M43.8 331.2h.01M44.1 328.2h.01M39.4 329.2h.01M40.6 334.4h.01M38.3 334.4h.01M36.5 334.0h.01M34.2 329.2h.01M43.4 330.8h.01M40.5 331.0h.01M40.6 330.6h.01M36.7 330.4h.01M40.4 329.1h.01M41.6 334.7h.01M34.4 329.9h.01M39.0 331.0h.01M40.3 329.5h.01M39.9 331.0h.01M39.7 334.3h.01M40.4 327.9h.01M34.7 332.2h.01M38.8 329.7h.01M35.4 330.3h.01M39.7 329.6h.01M38.8 332.9h.01M42.7 332.2h.01M39.4 328.1h.01M42.6 334.2h.01M44.3 333.5h.01M40.9 331.8h.01M40.0 333.6h.01M42.6 330.3h.01M40.0 327.6h.01M37.5 330.4h.01M48.3 329.3h.01M43.1 331.2h.01M39.0 332.3h.01M33.2 333.0h.01M46.6 331.6h.01M39.8 331.3h.01M42.3 330.0h.01M40.4 332.1h.01M38.8 331.8h.01M41.1 332.5h.01M36.6 329.9h.01M38.6 333.5h.01M40.8 327.5h.01M35.7 335.1h.01M41.2 328.3h.01M36.9 331.3h.01M44.8 334.4h.01M38.8 330.4h.01M46.5 328.9h.01M45.3 331.7h.01M40.3 333.7h.01M41.6 329.2h.01M34.8 331.0h.01M41.7 333.9h.01M31.1 333.8h.01M42.1 334.2h.01M42.7 331.5h.01M41.5 331.8h.01M37.9 330.8h.01M40.4 330.0h.01M35.0 327.9h.01M41.7 332.1h.01M40.4 328.5h.01M42.9 330.2h.01M32.9 334.3h.01M41.8 330.1h.01M32.0 329.5h.01M45.0 333.9h.01M40.9 327.4h.01M38.7 330.4h.01M41.6 330.7h.01M41.2 327.6h.01M37.8 334.0h.01M35.1 333.0h.01M47.8 332.4h.01M35.3 333.6h.01M33.7 331.7h.01M38.6 333.6h.01M44.0 331.4h.01M46.1 333.1h.01M38.4 328.9h.01M48.4 330.1h.01M41.4 330.8h.01M38.4 327.6h.01M39.5 330.8h.01M43.3 329.9h.01M34.7 328.7h.01M39.9 331.5h.01M42.5 330.2h.01M41.8 331.3h.01M45.7 330.9h.01M40.5 332.2h.01M44.1 329.1h.01M38.4 330.4h.01M32.8 333.8h.01M43.6 331.0h.01M51.4 333.7h.01M46.9 334.3h.01M43.1 328.0h.01M45.2 331.9h.01M35.9 331.1h.01M42.6 333.1h.01M40.6 329.9h.01M42.6 329.4h.01M39.7 332.6h.01M35.1 331.8h.01M33.3 329.0h.01M35.8 330.8h.01M42.4 330.9h.01M43.1 331.2h.01M39.3 332.0h.01M39.2 331.3h.01M43.5 329.8h.01M43.9 328.7h.01M39.3 327.3h.01M38.2 334.4h.01M41.2 333.7h.01M35.0 328.9h.01M41.6 332.8h.01M42.8 327.4h.01M41.7 330.8h.01M40.4 332.0h.01M39.0 327.4h.01M36.4 327.9h.01M46.7 298.2h.01M53.3 296.7h.01M48.1 293.6h.01M45.6 299.0h.01M48.8 298.1h.01M47.6 301.4h.01M47.0 301.6h.01M48.3 303.0h.01M47.8 301.2h.01M51.1 299.3h.01M54.1 301.1h.01M47.8 302.4h.01M47.9 296.5h.01M50.0 300.4h.01M54.3 291.9h.01M49.3 304.8h.01M49.6 301.0h.01M53.9 294.3h.01M50.1 303.3h.01M48.5 290.8h.01M47.5 299.9h.01M50.5 308.4h.01M53.4 292.7h.01M52.6 304.4h.01M54.1 299.6h.01M48.6 299.9h.01M53.9 303.2h.01M54.3 304.1h.01M48.5 294.4h.01M54.7 293.1h.01M49.1 297.8h.01M47.7 296.3h.01M50.0 310.9h.01M49.8 297.0h.01M50.3 304.1h.01M47.9 297.2h.01M45.6 302.0h.01M51.7 307.1h.01M47.0 309.4h.01M52.2 298.6h.01M49.0 297.8h.01M46.9 302.6h.01M48.5 295.7h.01M51.3 300.3h.01M48.5 298.1h.01M48.8 305.7h.01M52.5 296.5h.01M49.9 306.1h.01M49.3 307.9h.01M51.1 302.9h.01M44.7 302.6h.01M50.9 302.5h.01M51.2 302.3h.01M48.7 303.6h.01M50.2 294.5h.01M47.4 299.8h.01M50.9 289.0h.01M44.8 303.6h.01M50.0 313.2h.01M46.1 297.6h.01M48.5 301.9h.01M53.6 308.0h.01M47.4 305.0h.01M46.9 300.4h.01M50.4 302.6h.01M48.0 305.6h.01M49.8 299.4h.01M49.3 294.2h.01M51.8 301.5h.01M51.2 308.7h.01M47.8 297.7h.01M50.0 303.6h.01M49.5 303.9h.01M51.2 291.2h.01M48.3 289.4h.01M49.3 297.4h.01M51.5 300.6h.01M49.8 305.6h.01M51.5 293.9h.01M48.2 300.7h.01M54.3 299.4h.01M49.6 300.7h.01M52.0 299.4h.01M50.7 297.6h.01M48.6 295.4h.01M51.7 297.1h.01M51.4 301.7h.01M52.5 287.0h.01M47.5 293.1h.01M49.6 303.3h.01M56.4 308.2h.01M53.4 302.0h.01M49.0 301.9h.01M44.5 302.9h.01M50.0 302.5h.01M47.4 293.7h.01M48.4 299.0h.01M50.9 298.0h.01M50.9 303.0h.01M47.1 298.4h.01M46.0 296.1h.01M52.3 296.5h.01M54.7 302.9h.01M52.3 300.4h.01M52.2 305.2h.01M50.3 297.0h.01M48.6 308.6h.01M49.5 297.2h.01M48.2 291.0h.01M48.7 300.8h.01M48.8 295.6h.01M51.0 301.9h.01M48.9 300.8h.01M47.5 303.2h.01M47.5 297.4h.01M50.3 297.5h.01M47.1 309.1h.01M53.9 291.8h.01M50.3 293.4h.01M50.8 293.3h.01M30.8 313.6h.01M34.3 317.2h.01M27.6 314.4h.01M27.6 310.2h.01M27.4 303.5h.01M30.9 303.4h.01M28.3 312.9h.01M29.4 304.8h.01M27.0 313.2h.01M32.4 318.3h.01M23.3 311.4h.01M27.5 313.7h.01M23.7 309.0h.01M31.2 309.0h.01M27.9 306.8h.01M32.5 306.6h.01M26.1 308.9h.01M28.0 319.2h.01M29.9 307.9h.01M30.8 312.9h.01M29.9 311.0h.01M30.4 306.7h.01M25.2 308.3h.01M25.5 312.9h.01M35.1 317.5h.01M30.4 312.7h.01M26.9 305.2h.01M30.7 305.5h.01M29.9 310.7h.01M31.3 311.8h.01M29.3 308.8h.01M23.6 308.2h.01M31.2 315.8h.01M33.3 308.1h.01M26.1 313.0h.01M27.6 320.9h.01M30.0 305.2h.01M27.3 316.8h.01M23.3 310.1h.01M24.7 316.3h.01M27.6 306.5h.01M23.7 306.7h.01M21.0 307.0h.01M35.8 313.2h.01M28.2 306.1h.01M30.1 309.4h.01M26.4 315.9h.01M30.4 307.8h.01M33.6 312.0h.01M30.6 312.0h.01M32.7 314.4h.01M27.9 313.6h.01M27.8 311.2h.01M34.1 308.1h.01M25.8 308.5h.01M27.4 315.8h.01M24.0 318.9h.01M34.0 310.5h.01M29.6 309.7h.01M31.1 314.2h.01M31.4 314.7h.01M35.0 311.9h.01M31.2 310.8h.01M29.1 311.9h.01M28.8 312.3h.01M26.3 309.7h.01M27.1 305.8h.01M26.8 308.4h.01M28.5 304.6h.01M28.2 306.3h.01M26.4 311.1h.01M32.5 313.1h.01M27.5 308.8h.01M33.2 305.6h.01M32.6 305.9h.01M27.0 310.7h.01M28.3 317.5h.01M30.5 311.2h.01M32.0 311.9h.01M26.5 314.8h.01M33.7 317.4h.01M25.3 317.7h.01M27.7 313.7h.01M32.7 321.5h.01M23.9 305.6h.01M68.6 331.4h.01M62.8 321.4h.01M65.7 329.5h.01M54.2 328.4h.01M64.0 330.7h.01M67.0 329.2h.01M60.5 328.9h.01M55.8 326.7h.01M71.7 328.0h.01M68.1 330.4h.01M66.9 329.2h.01M60.5 332.9h.01M64.5 334.7h.01M63.0 328.9h.01M65.4 329.4h.01M62.8 327.4h.01M65.0 330.9h.01M71.2 329.9h.01M57.1 331.4h.01M73.0 328.7h.01M60.9 329.5h.01M52.8 329.0h.01M63.3 325.6h.01M66.3 327.4h.01M56.8 327.9h.01M68.9 330.6h.01M62.0 329.2h.01M67.8 328.5h.01M65.6 332.8h.01M60.4 328.3h.01M65.8 330.0h.01M63.5 328.4h.01M69.3 325.3h.01M64.2 330.3h.01M64.1 325.9h.01M63.5 330.4h.01" stroke="#1a1a1a" stroke-width="0.72" stroke-linecap="round" fill="none" opacity="0.5"/>
<rect x="19.60" y="283.80" width="56.90" height="52.00" fill="none" stroke="#777" stroke-width="0.7" />
<line x1="19.60" y1="283.80" x2="19.60" y2="336.30" stroke="#222" stroke-width="1.0" />
<line x1="19.10" y1="335.80" x2="76.50" y2="335.80" stroke="#222" stroke-width="1.0" />
<line x1="24.30" y1="335.80" x2="24.30" y2="337.40" stroke="#333" stroke-width="0.7" />
<line x1="18.20" y1="288.50" x2="19.60" y2="288.50" stroke="#444" stroke-width="0.6" />
<line x1="29.00" y1="335.80" x2="29.00" y2="337.40" stroke="#333" stroke-width="0.7" />
<line x1="18.20" y1="293.20" x2="19.60" y2="293.20" stroke="#444" stroke-width="0.6" />
<line x1="33.70" y1="335.80" x2="33.70" y2="337.40" stroke="#333" stroke-width="0.7" />
<line x1="18.20" y1="297.90" x2="19.60" y2="297.90" stroke="#444" stroke-width="0.6" />
<line x1="38.40" y1="335.80" x2="38.40" y2="337.40" stroke="#333" stroke-width="0.7" />
<line x1="18.20" y1="302.60" x2="19.60" y2="302.60" stroke="#444" stroke-width="0.6" />
<line x1="43.10" y1="335.80" x2="43.10" y2="337.40" stroke="#333" stroke-width="0.7" />
<line x1="18.20" y1="307.30" x2="19.60" y2="307.30" stroke="#444" stroke-width="0.6" />
<line x1="47.80" y1="335.80" x2="47.80" y2="337.40" stroke="#333" stroke-width="0.7" />
<line x1="18.20" y1="312.00" x2="19.60" y2="312.00" stroke="#444" stroke-width="0.6" />
<line x1="52.50" y1="335.80" x2="52.50" y2="337.40" stroke="#333" stroke-width="0.7" />
<line x1="18.20" y1="316.70" x2="19.60" y2="316.70" stroke="#444" stroke-width="0.6" />
<line x1="57.20" y1="335.80" x2="57.20" y2="337.40" stroke="#333" stroke-width="0.7" />
<line x1="18.20" y1="321.40" x2="19.60" y2="321.40" stroke="#444" stroke-width="0.6" />
<line x1="61.90" y1="335.80" x2="61.90" y2="337.40" stroke="#333" stroke-width="0.7" />
<line x1="18.20" y1="326.10" x2="19.60" y2="326.10" stroke="#444" stroke-width="0.6" />
<line x1="66.60" y1="335.80" x2="66.60" y2="337.40" stroke="#333" stroke-width="0.7" />
<line x1="18.20" y1="330.80" x2="19.60" y2="330.80" stroke="#444" stroke-width="0.6" />
<line x1="71.30" y1="335.80" x2="71.30" y2="337.40" stroke="#333" stroke-width="0.7" />
<rect x="42.50" y="287.10" width="17.80" height="22.50" fill="none" stroke="#444" stroke-width="0.7" />
<rect x="42.50" y="326.40" width="17.80" height="8.20" fill="none" stroke="#333" stroke-width="0.8" />
<rect x="42.50" y="309.60" width="17.80" height="16.80" fill="none" stroke="#111" stroke-width="1.1" />
<text x="61.30" y="299.80" font-size="6.8" fill="#111" stroke="#111" stroke-width="0.12">High</text>
<text x="61.80" y="318.30" font-size="6.8" fill="#111" stroke="#111" stroke-width="0.12">Dim</text>
<text x="61.40" y="333.30" font-size="6.8" fill="#111" stroke="#111" stroke-width="0.12">Low</text>
<text x="15.60" y="323.50" font-size="9" text-anchor="middle" fill="#111" stroke="#111" stroke-width="0.28" transform="rotate(-90 15.60 323.50)">CD25</text>
<line x1="12.70" y1="310.40" x2="12.70" y2="289.00" stroke="#111" stroke-width="1.0" />
<path d="M12.7 284.8 L15.2 289.8 L10.2 289.8 Z" fill="#111"/>
<text x="19.80" y="349.00" font-size="9" fill="#111" stroke="#111" stroke-width="0.28">CD4</text>
<line x1="37.40" y1="345.40" x2="73.00" y2="345.40" stroke="#111" stroke-width="1.0" />
<path d="M77.6 345.4 L72.4 342.9 L72.4 347.9 Z" fill="#111"/>
<text x="95.60" y="268.20" font-size="9" text-anchor="end" fill="#111" stroke="#111" stroke-width="0.28">High</text>
<text x="96.20" y="314.00" font-size="9" text-anchor="end" fill="#111" stroke="#111" stroke-width="0.28">Dim</text>
<text x="95.60" y="355.40" font-size="9" text-anchor="end" fill="#111" stroke="#111" stroke-width="0.28">Low</text>
<text x="119.40" y="246.50" font-size="9" text-anchor="middle" fill="#111" stroke="#111" stroke-width="0.28">Untx GVHD</text>
<text x="169.20" y="246.50" font-size="9" text-anchor="middle" fill="#111" stroke="#111" stroke-width="0.28">PD GVHD</text>
<text x="223.10" y="242.40" font-size="9" text-anchor="middle" fill="#111" stroke="#111" stroke-width="0.28">PD GVHD</text>
<text x="223.20" y="254.40" font-size="8.8" text-anchor="middle" fill="#111" stroke="#111" stroke-width="0.28">+ verapamil</text>
<path d="M98.90 295.30 L98.90 292.66 L99.30 292.09 L99.70 294.59 L100.10 294.13 L100.50 292.61 L100.90 290.05 L101.30 292.03 L101.70 292.41 L102.10 290.32 L102.50 289.70 L102.90 292.22 L103.30 290.61 L103.70 291.93 L104.10 289.23 L104.50 291.54 L104.90 288.31 L105.30 289.51 L105.70 288.58 L106.10 290.69 L106.50 288.67 L106.90 286.18 L107.30 289.80 L107.70 288.08 L108.10 290.18 L108.50 285.90 L108.90 286.18 L109.30 287.76 L109.70 290.29 L110.10 292.43 L110.50 289.63 L110.90 287.01 L111.30 286.22 L111.70 294.21 L112.10 291.66 L112.50 291.88 L112.90 286.72 L113.30 282.51 L113.70 283.10 L114.10 289.14 L114.50 290.91 L114.90 292.17 L115.30 290.75 L115.70 293.71 L116.10 290.97 L116.50 293.34 L116.90 288.99 L117.30 290.17 L117.70 290.61 L118.10 288.65 L118.50 289.45 L118.90 294.29 L119.30 289.11 L119.70 289.97 L120.10 291.48 L120.50 293.84 L120.90 291.22 L121.30 292.34 L121.70 289.01 L122.10 292.63 L122.50 292.22 L122.90 289.48 L123.30 289.58 L123.70 294.50 L124.10 289.45 L124.50 290.74 L124.90 289.45 L125.30 294.16 L125.70 289.04 L126.10 289.91 L126.50 290.76 L126.90 290.22 L127.30 293.63 L127.70 290.62 L128.10 292.14 L128.50 293.77 L128.90 292.03 L129.30 290.55 L129.70 291.54 L130.10 291.53 L130.50 292.58 L130.90 292.00 L131.30 293.06 L131.70 292.23 L132.10 293.09 L132.50 294.88 L132.90 293.59 L133.30 294.16 L133.70 293.30 L134.10 294.19 L134.50 293.64 L134.90 294.45 L135.30 294.45 L135.70 294.78 L136.10 295.11 L136.20 295.30 Z" fill="#111" stroke="#111" stroke-width="0.35" stroke-linejoin="round" />
<line x1="98.70" y1="263.50" x2="98.70" y2="295.30" stroke="#707070" stroke-width="0.75" />
<line x1="98.40" y1="295.30" x2="141.60" y2="295.30" stroke="#111" stroke-width="1.3" />
<line x1="98.70" y1="273.60" x2="113.30" y2="273.60" stroke="#444" stroke-width="0.8" />
<line x1="113.30" y1="271.90" x2="113.30" y2="275.30" stroke="#555" stroke-width="0.7" />
<text x="101.10" y="260.60" font-size="8.3" fill="#111" stroke="#111" stroke-width="0.28">72.2</text>
<path d="M148.80 295.00 L148.80 288.46 L149.20 292.22 L149.60 286.74 L150.00 284.91 L150.40 283.62 L150.80 283.42 L151.20 292.07 L151.60 280.16 L152.00 292.66 L152.40 285.56 L152.80 291.95 L153.20 290.78 L153.60 285.23 L154.00 292.52 L154.40 286.70 L154.80 286.62 L155.20 286.84 L155.60 289.57 L156.00 285.58 L156.40 290.39 L156.80 286.11 L157.20 290.16 L157.60 288.04 L158.00 291.37 L158.40 293.66 L158.80 293.42 L159.20 293.41 L159.60 294.61 L160.00 294.08 L160.40 293.15 L160.80 294.02 L161.20 293.91 L161.60 293.54 L162.00 290.50 L162.40 291.68 L162.80 292.01 L163.20 290.84 L163.60 293.99 L164.00 290.45 L164.40 292.30 L164.80 290.85 L165.20 291.16 L165.60 290.49 L166.00 291.09 L166.40 291.92 L166.80 292.39 L167.20 290.01 L167.60 292.33 L168.00 290.83 L168.40 294.25 L168.80 290.87 L169.20 292.31 L169.60 291.81 L170.00 290.92 L170.40 289.43 L170.80 290.92 L171.20 289.33 L171.60 289.36 L172.00 289.34 L172.40 288.22 L172.80 284.24 L173.20 282.80 L173.60 285.77 L174.00 287.91 L174.40 289.97 L174.80 289.13 L175.20 288.04 L175.60 288.77 L176.00 289.27 L176.40 288.23 L176.80 293.62 L177.20 289.86 L177.60 293.63 L178.00 293.38 L178.40 290.82 L178.80 289.98 L179.20 289.09 L179.60 293.51 L180.00 289.32 L180.40 291.67 L180.80 291.44 L181.20 290.23 L181.60 291.59 L182.00 290.49 L182.40 289.64 L182.80 287.15 L183.20 288.87 L183.60 288.58 L184.00 287.76 L184.40 291.62 L184.80 290.24 L185.20 292.27 L185.60 291.85 L186.00 292.58 L186.40 292.78 L186.80 292.36 L187.20 293.68 L187.60 294.53 L188.00 294.43 L188.40 294.51 L188.80 294.12 L189.20 294.73 L189.60 294.06 L190.00 294.10 L190.40 294.06 L190.80 293.22 L191.20 294.40 L191.60 294.73 L192.00 294.62 L192.40 294.73 L192.80 294.89 L193.20 294.70 L193.60 290.76 L194.00 294.76 L194.40 294.73 L194.80 294.88 L195.20 294.88 L195.60 294.90 L196.00 294.87 L196.40 294.90 L196.80 294.90 L197.20 294.95 L197.60 294.94 L198.00 294.99 L198.40 295.00 L198.50 295.00 Z" fill="#111" stroke="#111" stroke-width="0.35" stroke-linejoin="round" />
<line x1="148.60" y1="259.00" x2="148.60" y2="295.00" stroke="#707070" stroke-width="0.75" />
<line x1="148.30" y1="295.00" x2="198.50" y2="295.00" stroke="#111" stroke-width="1.3" />
<line x1="148.60" y1="270.10" x2="165.90" y2="270.10" stroke="#444" stroke-width="0.8" />
<line x1="165.90" y1="268.40" x2="165.90" y2="271.80" stroke="#555" stroke-width="0.7" />
<text x="154.10" y="260.60" font-size="8.3" fill="#111" stroke="#111" stroke-width="0.28">63.1</text>
<path d="M203.00 294.10 L203.00 294.10 L203.40 294.10 L203.80 294.10 L204.20 294.10 L204.60 294.10 L205.00 294.10 L205.40 294.10 L205.80 294.10 L206.20 294.10 L206.60 294.10 L207.00 294.10 L207.40 294.10 L207.80 294.10 L208.20 294.10 L208.60 294.10 L209.00 294.10 L209.40 294.10 L209.80 293.39 L210.20 292.62 L210.60 292.34 L211.00 293.77 L211.40 293.09 L211.80 292.68 L212.20 292.49 L212.60 293.15 L213.00 292.76 L213.40 292.70 L213.80 293.32 L214.20 293.37 L214.60 293.19 L215.00 293.93 L215.40 293.01 L215.80 293.30 L216.20 293.32 L216.60 292.77 L217.00 293.73 L217.40 292.78 L217.80 292.58 L218.20 293.02 L218.60 293.62 L219.00 292.90 L219.40 288.65 L219.80 288.42 L220.20 287.61 L220.60 287.66 L221.00 288.37 L221.40 287.62 L221.80 287.40 L222.20 287.28 L222.60 287.08 L223.00 288.51 L223.40 286.08 L223.80 281.97 L224.20 281.77 L224.60 282.97 L225.00 278.59 L225.40 273.94 L225.80 275.92 L226.20 267.41 L226.60 269.21 L227.00 281.13 L227.40 283.52 L227.80 279.90 L228.20 283.07 L228.60 286.10 L229.00 284.16 L229.40 291.46 L229.80 287.23 L230.20 288.23 L230.60 285.86 L231.00 286.11 L231.40 286.39 L231.80 287.15 L232.20 284.00 L232.60 288.30 L233.00 287.28 L233.40 285.69 L233.80 283.53 L234.20 292.18 L234.60 284.93 L235.00 285.38 L235.40 288.40 L235.80 285.03 L236.20 288.67 L236.60 285.23 L237.00 288.48 L237.40 285.79 L237.80 287.21 L238.20 289.50 L238.60 287.33 L239.00 289.80 L239.40 292.38 L239.80 290.51 L240.20 289.40 L240.60 293.25 L241.00 291.67 L241.40 292.00 L241.80 293.42 L242.20 291.56 L242.60 291.23 L243.00 292.35 L243.40 291.72 L243.80 293.41 L244.20 291.54 L244.60 291.27 L245.00 291.47 L245.40 292.25 L245.80 291.88 L246.20 292.45 L246.60 292.05 L247.00 292.70 L247.40 293.55 L247.80 292.72 L248.20 293.22 L248.60 294.04 L249.00 293.94 L249.40 294.06 L249.80 294.04 L250.20 294.10 Z" fill="#111" stroke="#111" stroke-width="0.35" stroke-linejoin="round" />
<line x1="202.90" y1="264.70" x2="202.90" y2="294.10" stroke="#707070" stroke-width="0.75" />
<line x1="202.60" y1="294.10" x2="250.20" y2="294.10" stroke="#111" stroke-width="1.3" />
<line x1="202.90" y1="270.20" x2="218.50" y2="270.20" stroke="#444" stroke-width="0.8" />
<line x1="218.50" y1="268.50" x2="218.50" y2="271.90" stroke="#555" stroke-width="0.7" />
<text x="204.70" y="262.50" font-size="8.3" fill="#111" stroke="#111" stroke-width="0.28">1.2</text>
<path d="M98.50 335.80 L98.50 334.28 L98.90 334.06 L99.30 333.97 L99.70 333.98 L100.10 333.60 L100.50 333.74 L100.90 333.51 L101.30 333.06 L101.70 333.08 L102.10 332.97 L102.50 332.69 L102.90 332.69 L103.30 332.61 L103.70 332.32 L104.10 332.58 L104.50 332.15 L104.90 332.27 L105.30 331.25 L105.70 331.15 L106.10 331.22 L106.50 331.55 L106.90 330.66 L107.30 331.11 L107.70 330.36 L108.10 330.35 L108.50 330.18 L108.90 329.79 L109.30 330.18 L109.70 329.21 L110.10 329.22 L110.50 328.00 L110.90 326.93 L111.30 327.19 L111.70 326.03 L112.10 325.30 L112.50 325.20 L112.90 322.28 L113.30 322.01 L113.70 321.81 L114.10 320.86 L114.50 318.92 L114.90 322.58 L115.30 322.57 L115.70 322.57 L116.10 323.96 L116.50 325.01 L116.90 326.33 L117.30 327.15 L117.70 327.06 L118.10 328.44 L118.50 328.30 L118.90 329.21 L119.30 329.62 L119.70 330.81 L120.10 330.87 L120.50 331.63 L120.90 331.71 L121.30 332.10 L121.70 331.77 L122.10 331.44 L122.50 331.68 L122.90 332.09 L123.30 332.23 L123.70 331.75 L124.10 332.53 L124.50 331.96 L124.90 332.03 L125.30 332.70 L125.70 332.10 L126.10 332.39 L126.50 332.65 L126.90 332.69 L127.30 332.71 L127.70 332.95 L128.10 332.93 L128.50 333.11 L128.90 333.59 L129.30 333.92 L129.70 333.75 L130.10 333.99 L130.50 334.17 L130.90 334.54 L131.30 334.66 L131.70 334.55 L132.10 334.80 L132.50 334.89 L132.90 334.92 L133.30 335.17 L133.70 335.22 L134.10 335.40 L134.50 335.47 L134.90 335.53 L135.30 335.58 L135.70 335.56 L136.10 335.57 L136.50 335.60 L136.90 335.62 L137.30 335.64 L137.70 335.66 L138.10 335.69 L138.50 335.70 L138.90 335.72 L139.30 335.74 L139.70 335.76 L140.10 335.78 L140.50 335.80 Z" fill="#111" stroke="#111" stroke-width="0.35" stroke-linejoin="round" />
<line x1="98.30" y1="309.30" x2="98.30" y2="335.80" stroke="#707070" stroke-width="0.75" />
<line x1="98.00" y1="335.80" x2="140.50" y2="335.80" stroke="#111" stroke-width="1.3" />
<line x1="98.30" y1="317.30" x2="113.00" y2="317.30" stroke="#444" stroke-width="0.8" />
<line x1="113.00" y1="315.60" x2="113.00" y2="319.00" stroke="#555" stroke-width="0.7" />
<text x="102.10" y="309.00" font-size="8.3" fill="#111" stroke="#111" stroke-width="0.28">35.1</text>
<path d="M149.40 335.20 L149.40 329.80 L149.80 329.48 L150.20 328.62 L150.60 327.14 L151.00 327.16 L151.40 328.24 L151.80 329.28 L152.20 329.33 L152.60 329.12 L153.00 329.44 L153.40 328.63 L153.80 329.28 L154.20 329.31 L154.60 328.93 L155.00 329.30 L155.40 329.27 L155.80 329.51 L156.20 329.56 L156.60 329.17 L157.00 329.85 L157.40 330.00 L157.80 330.41 L158.20 331.02 L158.60 331.36 L159.00 331.50 L159.40 331.77 L159.80 332.38 L160.20 332.95 L160.60 333.06 L161.00 333.72 L161.40 333.27 L161.80 333.30 L162.20 332.85 L162.60 332.81 L163.00 332.53 L163.40 331.97 L163.80 331.28 L164.20 330.99 L164.60 330.15 L165.00 328.24 L165.40 326.14 L165.80 324.60 L166.20 321.30 L166.60 321.73 L167.00 320.70 L167.40 318.42 L167.80 317.75 L168.20 315.10 L168.60 315.56 L169.00 311.50 L169.40 313.85 L169.80 314.23 L170.20 318.02 L170.60 319.10 L171.00 320.84 L171.40 321.81 L171.80 323.16 L172.20 323.00 L172.60 324.11 L173.00 324.20 L173.40 325.01 L173.80 324.82 L174.20 324.74 L174.60 324.57 L175.00 324.77 L175.40 325.23 L175.80 325.88 L176.20 325.92 L176.60 325.96 L177.00 325.99 L177.40 326.04 L177.80 325.36 L178.20 325.92 L178.60 325.11 L179.00 326.20 L179.40 326.24 L179.80 326.40 L180.20 326.40 L180.60 325.40 L181.00 325.39 L181.40 325.73 L181.80 324.65 L182.20 323.85 L182.60 323.86 L183.00 324.80 L183.40 324.64 L183.80 324.91 L184.20 325.42 L184.60 324.88 L185.00 323.79 L185.40 323.54 L185.80 324.98 L186.20 326.57 L186.60 333.27 L187.00 333.36 L187.40 333.60 L187.80 333.71 L188.20 333.78 L188.60 333.95 L189.00 334.06 L189.40 334.18 L189.80 334.19 L190.20 334.28 L190.60 334.23 L191.00 334.24 L191.40 334.26 L191.80 334.27 L192.20 334.30 L192.60 334.42 L193.00 334.42 L193.40 334.32 L193.80 334.34 L194.20 334.39 L194.60 334.40 L195.00 334.44 L195.40 334.45 L195.80 334.50 L196.20 334.64 L196.60 335.02 L196.80 335.20 Z" fill="#111" stroke="#111" stroke-width="0.35" stroke-linejoin="round" />
<line x1="149.20" y1="305.80" x2="149.20" y2="335.20" stroke="#707070" stroke-width="0.75" />
<line x1="148.90" y1="335.20" x2="196.80" y2="335.20" stroke="#111" stroke-width="1.3" />
<line x1="149.20" y1="315.60" x2="165.70" y2="315.60" stroke="#444" stroke-width="0.8" />
<line x1="165.70" y1="313.90" x2="165.70" y2="317.30" stroke="#555" stroke-width="0.7" />
<text x="150.70" y="309.00" font-size="8.3" fill="#111" stroke="#111" stroke-width="0.28">26.2</text>
<path d="M203.70 334.70 L203.70 334.33 L204.10 334.30 L204.50 334.30 L204.90 334.28 L205.30 334.29 L205.70 334.27 L206.10 334.27 L206.50 334.25 L206.90 334.26 L207.30 334.24 L207.70 334.23 L208.10 334.23 L208.50 334.23 L208.90 334.21 L209.30 334.20 L209.70 334.18 L210.10 334.20 L210.50 334.19 L210.90 334.18 L211.30 334.15 L211.70 334.16 L212.10 334.14 L212.50 334.16 L212.90 334.15 L213.30 334.05 L213.70 333.97 L214.10 333.91 L214.50 333.80 L214.90 333.68 L215.30 333.64 L215.70 333.54 L216.10 333.46 L216.50 333.37 L216.90 333.34 L217.30 333.02 L217.70 332.80 L218.10 332.58 L218.50 332.34 L218.90 332.11 L219.30 331.68 L219.70 331.44 L220.10 331.26 L220.50 330.71 L220.90 330.24 L221.30 329.90 L221.70 329.51 L222.10 328.66 L222.50 328.31 L222.90 327.43 L223.30 327.13 L223.70 326.50 L224.10 326.89 L224.50 327.08 L224.90 327.63 L225.30 327.94 L225.70 328.70 L226.10 329.41 L226.50 330.25 L226.90 330.55 L227.30 330.96 L227.70 330.98 L228.10 331.35 L228.50 331.25 L228.90 331.47 L229.30 331.67 L229.70 331.75 L230.10 331.92 L230.50 331.77 L230.90 331.83 L231.30 331.69 L231.70 331.79 L232.10 331.64 L232.50 331.63 L232.90 331.58 L233.30 331.37 L233.70 331.37 L234.10 331.08 L234.50 330.98 L234.90 330.90 L235.30 331.25 L235.70 331.59 L236.10 331.96 L236.50 332.35 L236.90 332.58 L237.30 332.93 L237.70 333.30 L238.10 333.71 L238.50 334.03 L238.90 334.22 L239.30 334.22 L239.70 334.23 L240.10 334.25 L240.50 334.25 L240.90 334.25 L241.30 334.26 L241.70 334.27 L242.10 334.26 L242.50 334.30 L242.90 334.31 L243.30 334.30 L243.70 334.32 L244.10 334.30 L244.50 334.33 L244.90 334.31 L245.30 334.34 L245.70 334.35 L246.10 334.34 L246.50 334.35 L246.90 334.36 L247.30 334.36 L247.70 334.37 L248.10 334.36 L248.50 334.38 L248.90 334.39 L249.30 334.40 L249.70 334.41 L250.10 334.41 L250.20 334.70 Z" fill="#111" stroke="#111" stroke-width="0.35" stroke-linejoin="round" />
<line x1="203.50" y1="305.80" x2="203.50" y2="334.70" stroke="#707070" stroke-width="0.75" />
<line x1="203.20" y1="334.70" x2="250.20" y2="334.70" stroke="#111" stroke-width="1.3" />
<line x1="203.50" y1="316.50" x2="217.60" y2="316.50" stroke="#444" stroke-width="0.8" />
<line x1="217.60" y1="314.80" x2="217.60" y2="318.20" stroke="#555" stroke-width="0.7" />
<text x="205.70" y="308.80" font-size="8.3" fill="#111" stroke="#111" stroke-width="0.28">5.1</text>
<path d="M98.50 377.80 L98.50 373.81 L98.90 373.18 L99.30 372.77 L99.70 372.67 L100.10 372.51 L100.50 372.01 L100.90 371.62 L101.30 370.99 L101.70 369.78 L102.10 368.62 L102.50 367.92 L102.90 368.31 L103.30 366.73 L103.70 365.98 L104.10 365.96 L104.50 364.57 L104.90 365.34 L105.30 364.42 L105.70 363.40 L106.10 362.26 L106.50 363.56 L106.90 364.50 L107.30 363.90 L107.70 365.53 L108.10 366.16 L108.50 367.42 L108.90 367.88 L109.30 368.48 L109.70 369.89 L110.10 370.37 L110.50 371.22 L110.90 372.33 L111.30 372.11 L111.70 373.31 L112.10 373.67 L112.50 373.65 L112.90 374.34 L113.30 374.65 L113.70 374.79 L114.10 375.04 L114.50 374.96 L114.90 375.07 L115.30 375.23 L115.70 375.09 L116.10 374.93 L116.50 375.05 L116.90 374.94 L117.30 374.45 L117.70 374.45 L118.10 374.34 L118.50 373.88 L118.90 373.96 L119.30 373.53 L119.70 373.32 L120.10 373.60 L120.50 373.14 L120.90 373.20 L121.30 372.74 L121.70 372.71 L122.10 372.36 L122.50 372.55 L122.90 372.85 L123.30 372.79 L123.70 372.29 L124.10 372.14 L124.50 372.74 L124.90 372.37 L125.30 371.85 L125.70 371.36 L126.10 372.00 L126.50 372.45 L126.90 372.47 L127.30 372.49 L127.70 372.90 L128.10 372.61 L128.50 372.82 L128.90 372.73 L129.30 372.69 L129.70 372.57 L130.10 372.91 L130.50 372.03 L130.90 372.34 L131.30 371.90 L131.70 371.04 L132.10 371.26 L132.50 372.40 L132.90 372.46 L133.30 373.70 L133.70 374.18 L134.10 376.10 L134.50 376.56 L134.90 376.48 L135.30 376.67 L135.70 376.62 L136.10 376.82 L136.50 376.87 L136.90 376.89 L137.30 377.00 L137.70 377.01 L138.10 377.11 L138.50 377.19 L138.90 377.33 L139.30 377.42 L139.70 377.55 L140.10 377.69 L140.50 377.80 Z" fill="#111" stroke="#111" stroke-width="0.35" stroke-linejoin="round" />
<line x1="98.30" y1="350.10" x2="98.30" y2="377.80" stroke="#707070" stroke-width="0.75" />
<line x1="98.00" y1="377.80" x2="140.50" y2="377.80" stroke="#111" stroke-width="1.3" />
<line x1="98.30" y1="358.50" x2="113.00" y2="358.50" stroke="#444" stroke-width="0.8" />
<line x1="113.00" y1="356.80" x2="113.00" y2="360.20" stroke="#555" stroke-width="0.7" />
<text x="101.70" y="351.00" font-size="8.3" fill="#111" stroke="#111" stroke-width="0.28">63.2</text>
<path d="M149.70 376.70 L149.70 370.46 L150.10 369.84 L150.50 369.51 L150.90 368.94 L151.30 368.71 L151.70 367.96 L152.10 367.47 L152.50 366.85 L152.90 365.61 L153.30 365.35 L153.70 363.99 L154.10 363.61 L154.50 363.76 L154.90 365.46 L155.30 364.89 L155.70 365.93 L156.10 366.33 L156.50 367.39 L156.90 367.40 L157.30 368.30 L157.70 368.53 L158.10 369.23 L158.50 370.12 L158.90 370.47 L159.30 370.62 L159.70 371.64 L160.10 371.73 L160.50 372.29 L160.90 372.71 L161.30 373.26 L161.70 373.52 L162.10 373.85 L162.50 374.09 L162.90 374.61 L163.30 374.82 L163.70 374.68 L164.10 374.38 L164.50 374.27 L164.90 374.09 L165.30 373.88 L165.70 373.41 L166.10 373.41 L166.50 372.94 L166.90 372.77 L167.30 372.77 L167.70 372.38 L168.10 372.46 L168.50 371.68 L168.90 371.62 L169.30 371.73 L169.70 371.22 L170.10 370.99 L170.50 370.55 L170.90 370.55 L171.30 369.74 L171.70 369.67 L172.10 369.87 L172.50 368.87 L172.90 368.50 L173.30 368.78 L173.70 368.05 L174.10 367.58 L174.50 367.24 L174.90 367.89 L175.30 366.60 L175.70 366.97 L176.10 365.86 L176.50 365.63 L176.90 365.56 L177.30 364.54 L177.70 364.30 L178.10 363.55 L178.50 362.97 L178.90 363.00 L179.30 362.10 L179.70 361.60 L180.10 361.77 L180.50 361.99 L180.90 362.39 L181.30 363.32 L181.70 363.64 L182.10 362.91 L182.50 362.71 L182.90 362.77 L183.30 362.60 L183.70 362.72 L184.10 362.47 L184.50 362.30 L184.90 363.49 L185.30 362.70 L185.70 360.48 L186.10 363.43 L186.50 364.22 L186.90 369.59 L187.30 374.03 L187.70 374.08 L188.10 374.56 L188.50 374.59 L188.90 374.84 L189.30 375.08 L189.70 375.43 L190.10 375.52 L190.50 375.64 L190.90 375.68 L191.30 375.66 L191.70 375.75 L192.10 375.78 L192.50 375.89 L192.90 375.94 L193.30 375.96 L193.70 376.01 L194.10 375.99 L194.50 376.09 L194.90 376.07 L195.30 376.14 L195.70 376.22 L196.10 376.28 L196.50 376.53 L196.80 376.70 Z" fill="#111" stroke="#111" stroke-width="0.35" stroke-linejoin="round" />
<line x1="149.50" y1="349.00" x2="149.50" y2="376.70" stroke="#707070" stroke-width="0.75" />
<line x1="149.20" y1="376.70" x2="196.80" y2="376.70" stroke="#111" stroke-width="1.3" />
<line x1="149.50" y1="358.50" x2="166.20" y2="358.50" stroke="#444" stroke-width="0.8" />
<line x1="166.20" y1="356.80" x2="166.20" y2="360.20" stroke="#555" stroke-width="0.7" />
<text x="154.10" y="351.00" font-size="8.3" fill="#111" stroke="#111" stroke-width="0.28">37.3</text>
<path d="M204.30 377.20 L204.30 376.71 L204.70 376.71 L205.10 376.70 L205.50 376.69 L205.90 376.69 L206.30 376.69 L206.70 376.69 L207.10 376.69 L207.50 376.68 L207.90 376.67 L208.30 376.67 L208.70 376.68 L209.10 376.67 L209.50 376.66 L209.90 376.67 L210.30 376.66 L210.70 376.65 L211.10 376.66 L211.50 376.64 L211.90 376.65 L212.30 376.64 L212.70 376.63 L213.10 376.64 L213.50 376.63 L213.90 376.62 L214.30 376.62 L214.70 376.62 L215.10 376.61 L215.50 376.62 L215.90 376.60 L216.30 376.48 L216.70 376.29 L217.10 376.11 L217.50 375.91 L217.90 375.72 L218.30 375.54 L218.70 375.39 L219.10 375.15 L219.50 374.94 L219.90 374.74 L220.30 374.49 L220.70 374.34 L221.10 374.08 L221.50 373.84 L221.90 373.62 L222.30 373.41 L222.70 373.27 L223.10 373.00 L223.50 372.81 L223.90 372.28 L224.30 371.56 L224.70 370.79 L225.10 370.02 L225.50 369.26 L225.90 368.42 L226.30 367.07 L226.70 365.31 L227.10 363.59 L227.50 361.87 L227.90 359.73 L228.30 358.15 L228.70 357.17 L229.10 355.59 L229.50 353.77 L229.90 353.40 L230.30 352.92 L230.70 352.51 L231.10 352.62 L231.50 352.90 L231.90 353.02 L232.30 353.10 L232.70 353.71 L233.10 353.98 L233.50 354.81 L233.90 355.66 L234.30 356.98 L234.70 357.97 L235.10 358.74 L235.50 359.52 L235.90 360.14 L236.30 360.79 L236.70 361.09 L237.10 361.71 L237.50 362.73 L237.90 362.13 L238.30 359.09 L238.70 356.18 L239.10 352.80 L239.50 348.53 L239.90 351.07 L240.30 354.88 L240.70 359.59 L241.10 365.66 L241.50 371.22 L241.90 372.67 L242.30 374.16 L242.70 375.55 L243.10 375.56 L243.50 375.62 L243.90 375.63 L244.30 375.67 L244.70 375.72 L245.10 375.75 L245.50 375.80 L245.90 375.81 L246.30 375.85 L246.70 375.89 L247.10 375.93 L247.50 375.99 L247.90 375.99 L248.30 376.03 L248.70 376.08 L249.10 376.11 L249.50 376.15 L249.90 376.17 L250.30 376.22 L250.70 376.26 L251.10 376.28 L251.50 376.33 L251.90 376.37 L252.30 376.39 L252.70 376.41 L253.10 376.45 L253.50 376.50 L253.90 376.53 L254.30 376.56 L254.70 376.59 L255.10 376.63 L255.50 376.66 L255.90 376.70 L256.00 377.20 Z" fill="#111" stroke="#111" stroke-width="0.35" stroke-linejoin="round" />
<line x1="204.10" y1="347.20" x2="204.10" y2="377.20" stroke="#707070" stroke-width="0.75" />
<line x1="203.80" y1="377.20" x2="256.00" y2="377.20" stroke="#111" stroke-width="1.3" />
<line x1="204.10" y1="354.20" x2="220.60" y2="354.20" stroke="#444" stroke-width="0.8" />
<line x1="220.60" y1="352.50" x2="220.60" y2="355.90" stroke="#555" stroke-width="0.7" />
<text x="206.90" y="351.00" font-size="8.3" fill="#111" stroke="#111" stroke-width="0.28">2.0</text>
<text x="104.00" y="392.80" font-size="9" fill="#111" stroke="#111" stroke-width="0.28">7-AAD</text>
<line x1="135.00" y1="389.70" x2="250.50" y2="389.70" stroke="#111" stroke-width="1.0" />
<path d="M254.4 389.7 L249.2 387.4 L249.2 392.0 Z" fill="#111"/>
<defs><pattern id="st" width="2" height="4" patternUnits="userSpaceOnUse"><rect width="2" height="4" fill="#fff"/><rect x="0" width="1.05" height="4" fill="#111"/></pattern></defs>
<text x="262.60" y="243.00" font-size="11.5" font-weight="bold" fill="#000" stroke="#000" stroke-width="0.28">H</text>
<text x="271.40" y="301.00" font-size="8.6" text-anchor="middle" fill="#111" stroke="#111" stroke-width="0.28" transform="rotate(-90 271.40 301.00)">Proliferation (%control)</text>
<line x1="293.70" y1="360.00" x2="297.10" y2="360.00" stroke="#111" stroke-width="1.0" />
<text x="292.50" y="363.20" font-size="9.0" text-anchor="end" fill="#111" stroke="#111" stroke-width="0.28">0</text>
<line x1="293.70" y1="330.60" x2="297.10" y2="330.60" stroke="#111" stroke-width="1.0" />
<text x="292.50" y="333.80" font-size="9.0" text-anchor="end" fill="#111" stroke="#111" stroke-width="0.28">50</text>
<line x1="293.70" y1="301.20" x2="297.10" y2="301.20" stroke="#111" stroke-width="1.0" />
<text x="292.50" y="304.40" font-size="9.0" text-anchor="end" fill="#111" stroke="#111" stroke-width="0.28">100</text>
<line x1="293.70" y1="271.80" x2="297.10" y2="271.80" stroke="#111" stroke-width="1.0" />
<text x="292.50" y="275.00" font-size="9.0" text-anchor="end" fill="#111" stroke="#111" stroke-width="0.28">150</text>
<line x1="293.70" y1="242.40" x2="297.10" y2="242.40" stroke="#111" stroke-width="1.0" />
<text x="292.50" y="245.60" font-size="9.0" text-anchor="end" fill="#111" stroke="#111" stroke-width="0.28">200</text>
<line x1="304.75" y1="289.44" x2="304.75" y2="301.20" stroke="#111" stroke-width="1.5" />
<line x1="301.75" y1="289.44" x2="307.75" y2="289.44" stroke="#111" stroke-width="1.3" />
<rect x="299.30" y="301.20" width="10.90" height="58.80" fill="#fff" stroke="#111" stroke-width="1.3" />
<line x1="315.40" y1="350.00" x2="315.40" y2="352.36" stroke="#111" stroke-width="1.5" />
<line x1="312.40" y1="350.00" x2="318.40" y2="350.00" stroke="#111" stroke-width="1.3" />
<rect x="310.20" y="352.36" width="10.40" height="7.64" fill="#111" stroke="#111" stroke-width="1.3" />
<text x="315.40" y="349.80" font-size="8.4" text-anchor="middle" fill="#111" stroke="#111" stroke-width="0.4" letter-spacing="0.5">***</text>
<line x1="346.40" y1="271.80" x2="346.40" y2="278.03" stroke="#111" stroke-width="1.5" />
<line x1="343.40" y1="271.80" x2="349.40" y2="271.80" stroke="#111" stroke-width="1.3" />
<rect x="341.30" y="278.03" width="10.20" height="81.97" fill="#fff" stroke="#111" stroke-width="1.3" />
<line x1="357.65" y1="338.83" x2="357.65" y2="343.54" stroke="#111" stroke-width="1.5" />
<line x1="354.65" y1="338.83" x2="360.65" y2="338.83" stroke="#111" stroke-width="1.3" />
<rect x="351.50" y="343.54" width="12.30" height="16.46" fill="#111" stroke="#111" stroke-width="1.3" />
<text x="357.65" y="338.63" font-size="8.4" text-anchor="middle" fill="#111" stroke="#111" stroke-width="0.4" letter-spacing="0.5">***</text>
<line x1="368.90" y1="293.56" x2="368.90" y2="303.08" stroke="#111" stroke-width="1.5" />
<line x1="365.90" y1="293.56" x2="371.90" y2="293.56" stroke="#111" stroke-width="1.3" />
<rect x="363.80" y="303.08" width="10.20" height="56.92" fill="#111" stroke="#111" stroke-width="1.2" />
<rect x="365.94" y="303.88" width="1.84" height="55.62" fill="#fff" stroke="none" stroke-width="0" />
<rect x="369.31" y="303.88" width="1.63" height="55.62" fill="#fff" stroke="none" stroke-width="0" />
<line x1="388.35" y1="271.80" x2="388.35" y2="278.03" stroke="#111" stroke-width="1.5" />
<line x1="385.35" y1="271.80" x2="391.35" y2="271.80" stroke="#111" stroke-width="1.3" />
<rect x="383.20" y="278.03" width="10.30" height="81.97" fill="#fff" stroke="#111" stroke-width="1.3" />
<line x1="399.05" y1="328.25" x2="399.05" y2="339.42" stroke="#111" stroke-width="1.5" />
<line x1="396.05" y1="328.25" x2="402.05" y2="328.25" stroke="#111" stroke-width="1.3" />
<rect x="393.50" y="339.42" width="11.10" height="20.58" fill="#111" stroke="#111" stroke-width="1.3" />
<text x="399.05" y="328.05" font-size="8.4" text-anchor="middle" fill="#111" stroke="#111" stroke-width="0.4" letter-spacing="0.5">***</text>
<line x1="410.00" y1="293.44" x2="410.00" y2="300.61" stroke="#111" stroke-width="1.5" />
<line x1="407.00" y1="293.44" x2="413.00" y2="293.44" stroke="#111" stroke-width="1.3" />
<rect x="404.60" y="300.61" width="10.80" height="59.39" fill="#111" stroke="#111" stroke-width="1.2" />
<rect x="406.87" y="301.41" width="1.94" height="58.09" fill="#fff" stroke="none" stroke-width="0" />
<rect x="410.43" y="301.41" width="1.73" height="58.09" fill="#fff" stroke="none" stroke-width="0" />
<line x1="429.75" y1="273.21" x2="429.75" y2="278.62" stroke="#111" stroke-width="1.5" />
<line x1="426.75" y1="273.21" x2="432.75" y2="273.21" stroke="#111" stroke-width="1.3" />
<rect x="424.80" y="278.62" width="9.90" height="81.38" fill="#fff" stroke="#111" stroke-width="1.3" />
<line x1="440.90" y1="321.19" x2="440.90" y2="324.72" stroke="#111" stroke-width="1.5" />
<line x1="437.90" y1="321.19" x2="443.90" y2="321.19" stroke="#111" stroke-width="1.3" />
<rect x="434.80" y="324.72" width="12.20" height="35.28" fill="#111" stroke="#111" stroke-width="1.3" />
<text x="440.90" y="320.99" font-size="8.4" text-anchor="middle" fill="#111" stroke="#111" stroke-width="0.4" letter-spacing="0.5">**</text>
<line x1="452.10" y1="297.08" x2="452.10" y2="301.20" stroke="#111" stroke-width="1.5" />
<line x1="449.10" y1="297.08" x2="455.10" y2="297.08" stroke="#111" stroke-width="1.3" />
<rect x="447.00" y="301.20" width="10.20" height="58.80" fill="#111" stroke="#111" stroke-width="1.2" />
<rect x="449.14" y="302.00" width="1.84" height="57.50" fill="#fff" stroke="none" stroke-width="0" />
<rect x="452.51" y="302.00" width="1.63" height="57.50" fill="#fff" stroke="none" stroke-width="0" />
<line x1="471.65" y1="243.22" x2="471.65" y2="249.69" stroke="#111" stroke-width="1.5" />
<line x1="468.65" y1="243.22" x2="474.65" y2="243.22" stroke="#111" stroke-width="1.3" />
<rect x="466.60" y="249.69" width="10.10" height="110.31" fill="#fff" stroke="#111" stroke-width="1.3" />
<line x1="482.70" y1="342.36" x2="482.70" y2="345.89" stroke="#111" stroke-width="1.5" />
<line x1="479.70" y1="342.36" x2="485.70" y2="342.36" stroke="#111" stroke-width="1.3" />
<rect x="476.90" y="345.89" width="11.60" height="14.11" fill="#111" stroke="#111" stroke-width="1.3" />
<text x="482.70" y="342.16" font-size="8.4" text-anchor="middle" fill="#111" stroke="#111" stroke-width="0.4" letter-spacing="0.5">***</text>
<line x1="493.55" y1="298.26" x2="493.55" y2="301.20" stroke="#111" stroke-width="1.5" />
<line x1="490.55" y1="298.26" x2="496.55" y2="298.26" stroke="#111" stroke-width="1.3" />
<rect x="488.50" y="301.20" width="10.10" height="58.80" fill="#111" stroke="#111" stroke-width="1.2" />
<rect x="490.62" y="302.00" width="1.82" height="57.50" fill="#fff" stroke="none" stroke-width="0" />
<rect x="493.95" y="302.00" width="1.62" height="57.50" fill="#fff" stroke="none" stroke-width="0" />
<line x1="297.10" y1="302.20" x2="499.50" y2="302.20" stroke="#111" stroke-width="2.1" stroke-dasharray="3.5 1.6"/>
<line x1="297.10" y1="242.40" x2="297.10" y2="360.90" stroke="#111" stroke-width="1.8" />
<line x1="296.30" y1="360.00" x2="503.50" y2="360.00" stroke="#111" stroke-width="1.7" />
<rect x="310.00" y="234.40" width="18.80" height="7.80" fill="#fff" stroke="#111" stroke-width="1.0" />
<text x="331.20" y="241.40" font-size="9.0" fill="#111" stroke="#111" stroke-width="0.28">GVHD+untx GVHD</text>
<rect x="310.00" y="246.80" width="18.80" height="8.00" fill="#111" stroke="#111" stroke-width="1.0" />
<text x="331.20" y="254.20" font-size="9.0" fill="#111" stroke="#111" stroke-width="0.28">GVHD+PD GVHD</text>
<rect x="310.00" y="258.40" width="18.80" height="8.00" fill="url(#st)" stroke="#111" stroke-width="1.0" />
<text x="330.40" y="266.80" font-size="9.0" fill="#111" stroke="#111" stroke-width="0.28">GVHD+PD GVHD+verapamil</text>
<text x="311.40" y="376.50" font-size="9.6" text-anchor="middle" fill="#111" stroke="#111" stroke-width="0.28" letter-spacing="0.4">0:1 1:0</text>
<text x="357.10" y="376.50" font-size="9.6" text-anchor="middle" fill="#111" stroke="#111" stroke-width="0.28" letter-spacing="0.4">0.125:1</text>
<text x="400.80" y="376.50" font-size="9.6" text-anchor="middle" fill="#111" stroke="#111" stroke-width="0.28" letter-spacing="0.4">0.25:1</text>
<text x="442.60" y="376.50" font-size="9.6" text-anchor="middle" fill="#111" stroke="#111" stroke-width="0.28" letter-spacing="0.4">0.5:1</text>
<text x="484.60" y="376.50" font-size="9.6" text-anchor="middle" fill="#111" stroke="#111" stroke-width="0.28" letter-spacing="0.4">1:1</text>
<text x="413.40" y="388.60" font-size="8.6" text-anchor="middle" fill="#111" stroke="#111" stroke-width="0.28">E:T ratio</text>
</svg>
</body></html>
